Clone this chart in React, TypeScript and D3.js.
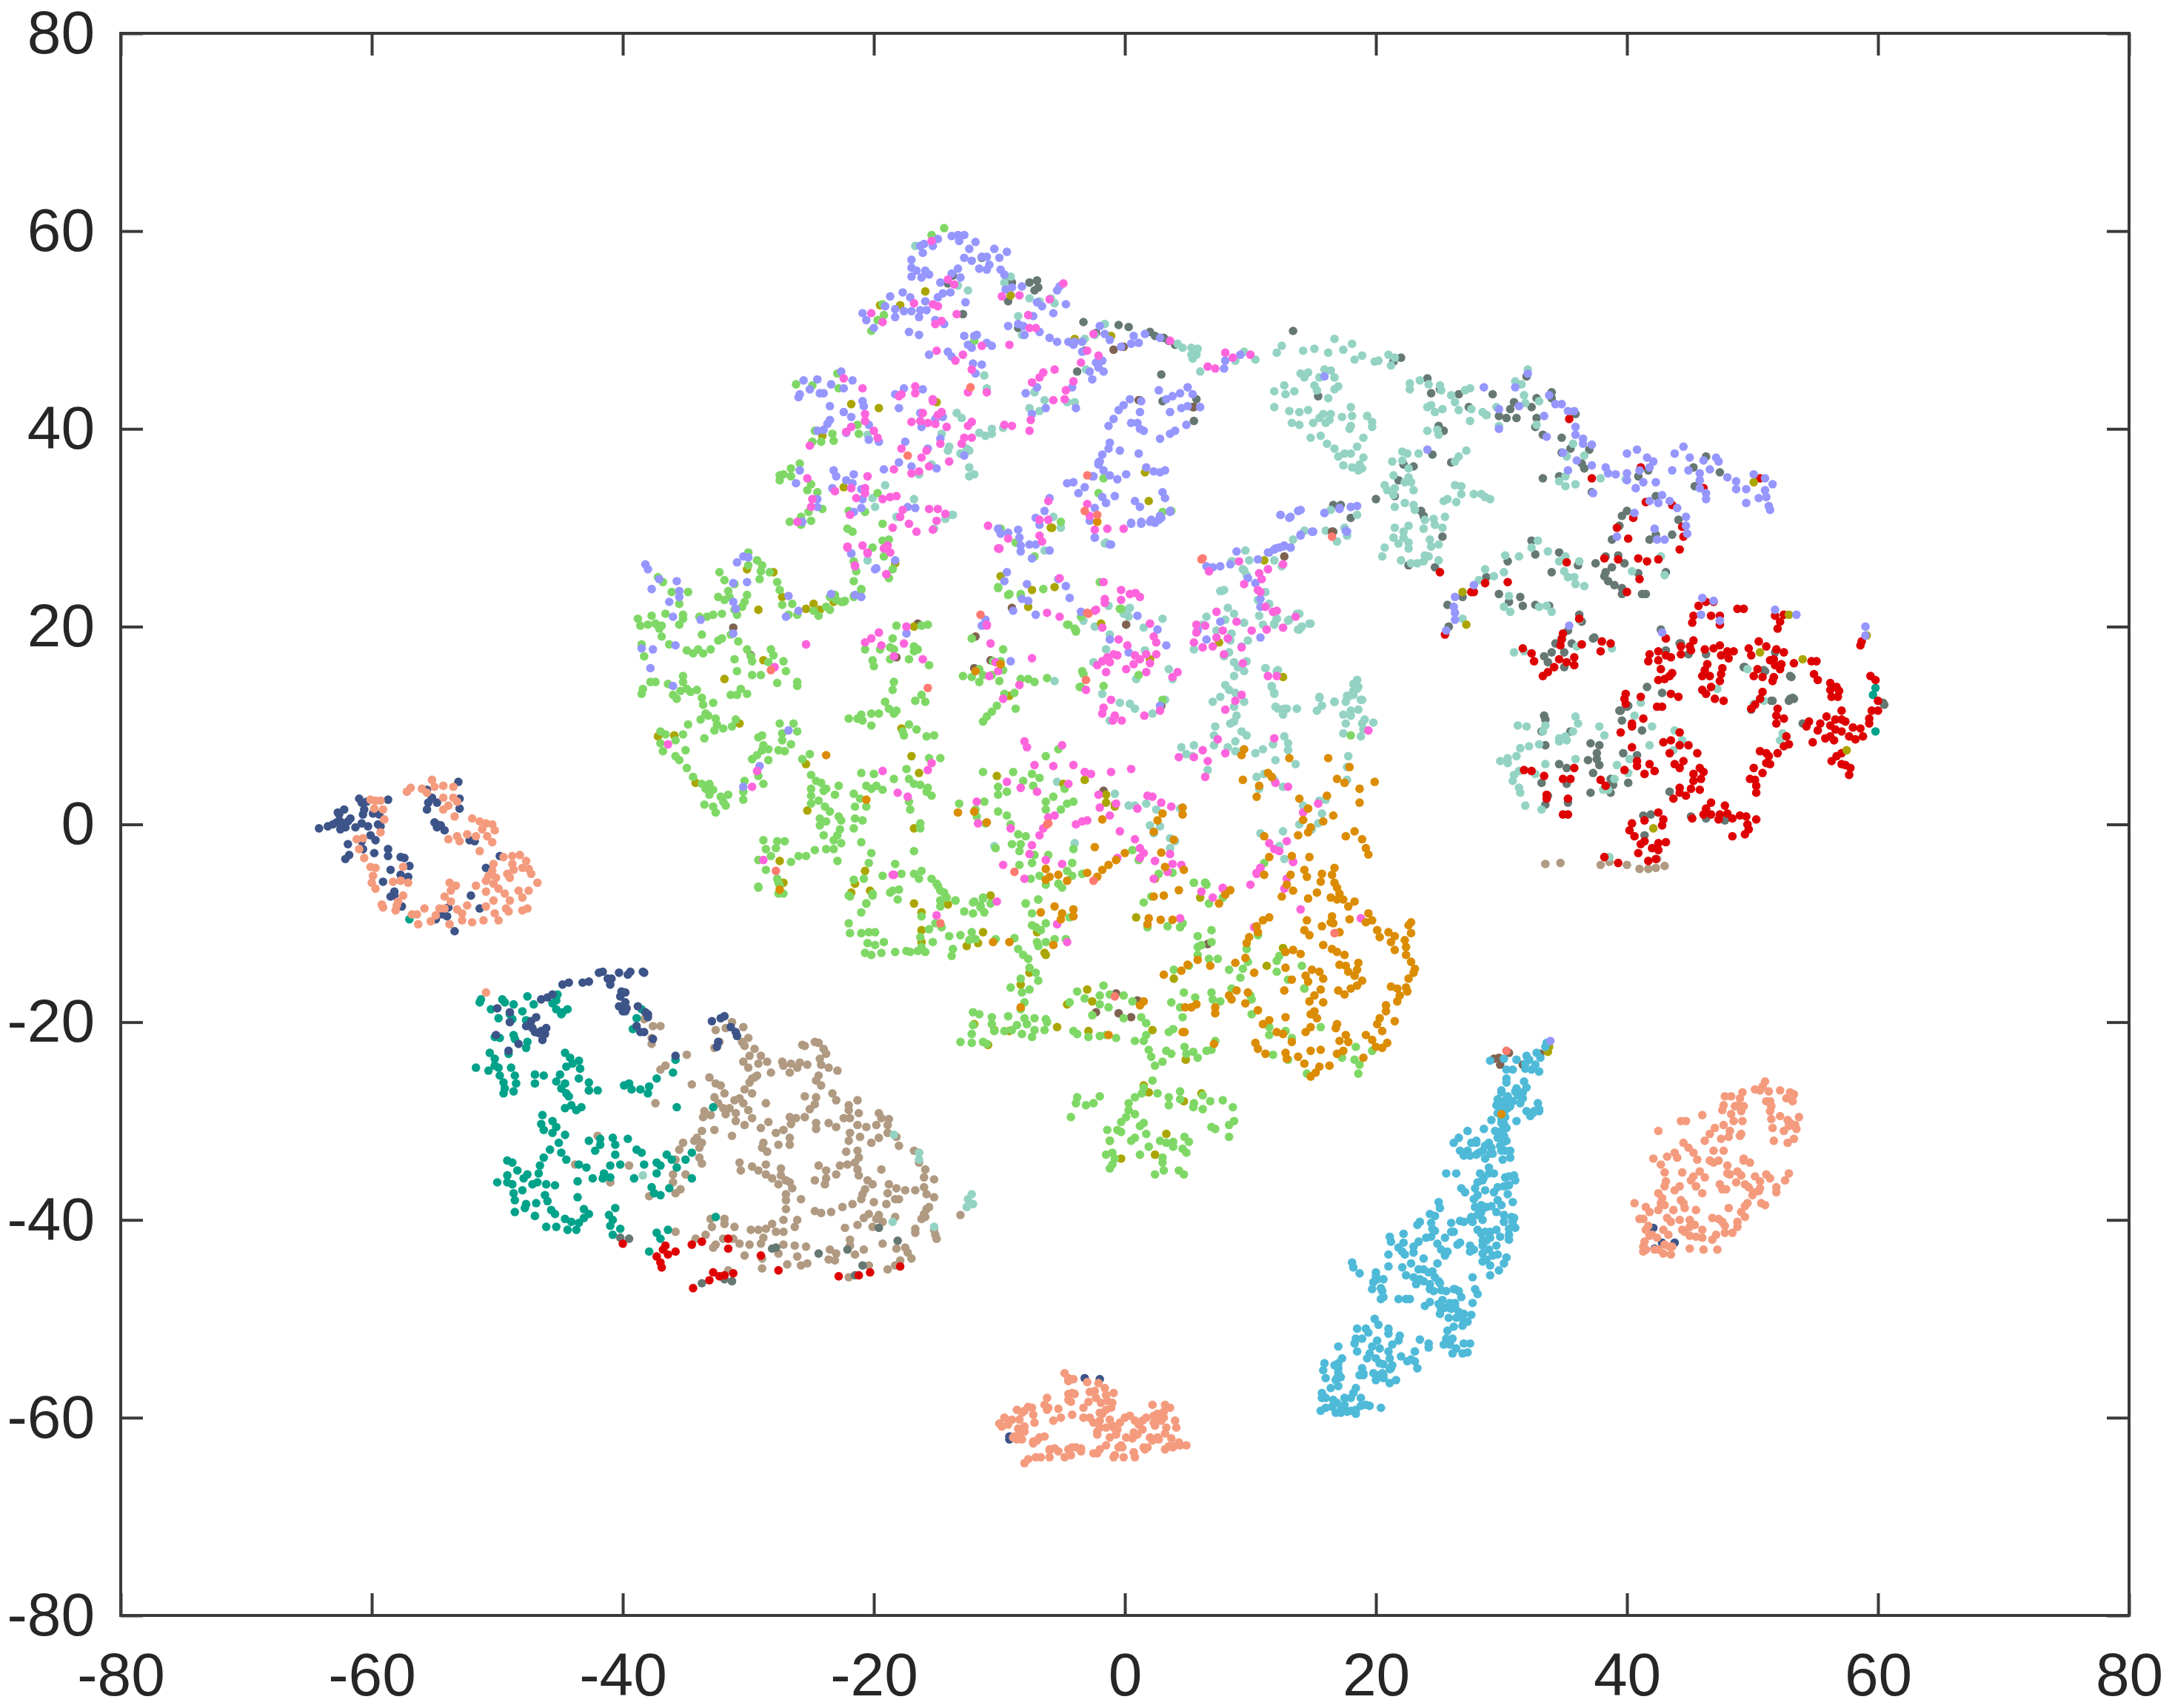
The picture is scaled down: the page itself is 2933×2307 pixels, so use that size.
import * as d3 from 'd3';
import React, { useEffect, useRef } from 'react';

const tickValues = [-80, -60, -40, -20, 0, 20, 40, 60, 80];

// point clouds in axis units
const tan = [
[-31.3,-20],[-32.6,-20.8],[-31.8,-20.6],[-30.4,-20.5],[-30,-21.6],[-30.5,-22],[-30.3,-22.4],[-32.3,-22],[-32.7,-22.6],[-29.5,-22.7],[-29.9,-23.4],[-29,-23.4],[-30.4,-24],[-28.5,-24],[-29.2,-24.2],[-30,-24.6],[-28.2,-25.1],[-29.3,-25.4],[-29.7,-25.7],[-29.9,-26.1],
[-25.7,-22.3],[-24.7,-22],[-24.4,-22.1],[-24,-22.7],[-23.8,-23.2],[-24.3,-23.7],[-24.2,-24.3],[-23.6,-24.6],[-22.9,-24.9],[-25.5,-22.4],[-27.3,-24],[-27.2,-24.4],[-26.7,-25.1],[-26.6,-24.2],[-25.9,-24.1],[-25.3,-24.3],[-26.1,-24.6],
[-24.4,-25.4],[-24.6,-25.9],[-24.2,-26.4],[-23.3,-27.2],[-23,-27.9],[-21.3,-27.9],[-22,-28.4],[-22,-28.9],[-21.2,-29.2],[-22.4,-29.7],[-21.9,-29.7],[-19.6,-29.2],[-19.4,-29.7],[-18.8,-29.8],[-18.9,-30.4],[-19.8,-30.4],[-20.6,-30.6],[-21.3,-30.4],[-21.9,-31.2],[-22,-32],[-21.1,-31.6],[-20.2,-32.2],[-19.6,-31.7],[-18.9,-31.2],[-18.2,-31.6],[-18,-32.5],[-21.3,-33],[-22.2,-33.1],
[-25.5,-27.5],[-24.6,-27.6],[-24.7,-28.3],[-25.1,-28.8],[-25.5,-29.6],[-26.2,-29.7],[-26.7,-29.6],[-26.6,-30.3],[-27.2,-30.9],[-27.8,-31.2],[-26.7,-31.7],[-24.6,-30.2],[-24.6,-30.8],[-23.6,-30.2],[-23,-30.6],[-26.7,-32.4],[-27.6,-32.4],[-28.4,-30.1],[-29,-30.7],[-28.8,-32.2],[-28.9,-32.7],[-28.5,-33.1],
[-29.5,-25.6],[-30.3,-26.8],[-29.7,-27.2],[-30.7,-27.7],[-31.1,-27.9],[-30.4,-28.2],[-28.6,-28.2],[-30,-28.9],[-31,-29.2],[-29.7,-29.7],[-31,-30],[-30.3,-30.4],[-33.1,-25.6],[-32.6,-26.2],[-32.2,-26.4],[-31.9,-27.2],[-34.5,-26.3],[-32.7,-27.6],[-32.4,-28.2],[-32,-28.7],[-31.5,-28.7],[-31.8,-29.3],[-33.5,-29],[-33.6,-29.6],[-33,-29.4],[-34.9,-23.3],[-36.6,-24.4],[-37,-24.8],[-37.4,-28.2],[-37.6,-20.4],[-37,-20.4],[-37.7,-21.6],[-37.7,-22.2],[-38.3,-19.7],
[-32.7,-30.9],[-31.3,-31.5],[-33.7,-31],[-34.1,-31.7],[-33.7,-32.2],[-34.3,-32],[-35.2,-32.2],[-35.5,-32.9],[-33.9,-32.7],[-33.9,-33.7],[-33.7,-34.3],[-35,-35.4],[-35.8,-33.9],[-36,-35.4],[-36,-36.2],[-35.4,-36.9],[-35.8,-37.3],[-37.9,-37.6],[-41,-36.2],[-39.5,-34.5],[-43.8,-34.4],[-42,-31.5],[-42.7,-26.9],
[-30.7,-34.2],[-30.6,-35],[-29.7,-34.6],[-29.2,-35],[-28.6,-34.4],[-28.6,-35.4],[-28.1,-35.8],[-27.4,-34.8],[-27.4,-35.5],[-27,-36],[-27.6,-36.4],[-26.7,-36.2],[-26.5,-36.8],[-27,-37.4],[-27,-38],[-25.8,-37.9],[-27,-38.9],
[-24.4,-34.5],[-23.8,-35],[-24.7,-36],[-23.8,-35.8],[-23.9,-36.4],[-23,-35.4],[-22.7,-34.5],[-22.1,-34.4],[-21.5,-34.2],[-21.2,-33.7],[-21.3,-34.9],[-21.2,-35.5],[-20.5,-36],[-20.1,-36.4],[-20.7,-36.9],[-20.9,-37.4],[-21,-37.9],[-20,-38.2],[-19.4,-34.9],[-18.8,-36.4],[-18.9,-37.3],[-18.2,-36.8],[-17.5,-37],[-18,-37.9],[-18.3,-37.9],[-19,-38.4],[-16.7,-37],[-16,-36.7],[-15.8,-37.4],[-15.2,-37.7],[-16,-35.7],[-15.9,-34.9],[-15.2,-35.9],[-16.4,-34.2],[-16.4,-33.2],[-16.8,-33],
[-15.8,-38.9],[-15.9,-39.7],[-16.2,-39.9],[-18.3,-39.7],[-19.6,-39.5],[-20.4,-39.4],[-20.8,-39.8],[-19.8,-39.9],[-21.3,-40.5],[-22.3,-40.8],[-19.3,-40.2],[-21.7,-38.4],[-22.5,-38.7],[-23.4,-39.2],[-24.2,-39.3],[-24.7,-39.1],[-16.7,-40.9],[-16.7,-41.3],[-15.1,-41.5],[-15,-41.9],[-13.1,-39.5],
[-33,-39.9],[-32.6,-39.7],[-32.9,-40.7],[-33.4,-41.5],[-31.9,-39.9],[-31.9,-40.4],[-31.1,-40.7],[-34.2,-41.9],[-35.8,-41.2],[-32,-41.9],[-32.6,-42.5],[-32.8,-42.8],[-31.2,-41.9],[-30.7,-42.4],[-29.8,-41],[-29.2,-41],[-28.6,-40.9],[-28.1,-40.4],[-27.8,-41.2],[-27.2,-40],[-27.2,-41.2],[-26.1,-40],[-26.3,-40.7],[-28.8,-41.8],[-29,-42.4],[-29.9,-42.5],[-30.3,-43.6],[-28.9,-43.9],[-28.9,-44.9],[-27.2,-42.5],[-27.6,-43.4],[-26.3,-42.6],[-26.9,-44.5],[-26.1,-43.7],[-25.4,-42.7],[-25.3,-44.4],[-25.8,-44.6],
[-23.5,-43],[-23.6,-44],[-23,-43.4],[-23.1,-44.1],[-21.9,-42],[-21.9,-42.6],[-21.5,-43.5],[-20.8,-43],[-22,-45.8],[-20.4,-44.6],[-18.9,-45],[-18.3,-44.6],[-19.3,-42.4],[-18.2,-42.9],[-17.5,-42.8],[-17.3,-43.3],[-17,-43.9],[-17.9,-44.1],[-16,-39.4],[-15.6,-38.7],[-15.2,-41],[-31.6,-45.1],[-20.1,-40.7],
[33.5,-4],[34.7,-3.9],[37.9,-4.1],[38.6,-3.8],[40,-4.1],[41,-4.5],[41.7,-4.5],[42.3,-4.4],[43,-4.2],[42.4,-3.5]
];

const teal = [
[-51.4,-18],[-51.3,-17.7],[-49.6,-17.7],[-49.4,-18],[-48.7,-18.2],[-50.5,-18.7],[-47.6,-17.4],[-47.1,-18.2],[-48,-18.9],[-49.9,-19.6],[-49,-19.2],[-48.8,-19.7],[-47.7,-19.8],[-45.2,-17.2],[-45.3,-17.8],[-45.6,-18.1],[-45.3,-18.7],[-44.9,-19.2],[-44.4,-18.7],[-44.8,-19],[-48.7,-21.3],[-48.6,-21.7],[-49.8,-21.6],[-50.2,-21.5],[-47.6,-22],[-47.7,-22.6],[-49.1,-23.2],
[-50.6,-23.1],[-50.2,-23.7],[-50.2,-24.4],[-51.7,-24.6],[-50.7,-24.9],[-49.9,-24.6],[-48.9,-24.6],[-49.8,-25.4],[-49.5,-26.1],[-48.6,-25.4],[-48.5,-26.2],[-49.4,-26.7],[-49.5,-27.2],[-48.7,-27],
[-47,-25.3],[-47,-26.2],[-46.3,-25.4],[-45,-25.3],[-45.3,-26],[-44.6,-26.2],[-44.9,-26.7],[-44.5,-27.2],[-44.3,-27.5],[-44.6,-23.1],[-44.2,-23.6],[-44.5,-24.5],[-44,-24.2],[-43.5,-23.9],[-43.4,-24.7],[-43.5,-25.7],[-42.7,-26.1],[-42.7,-26.9],[-42,-26.9],
[-44.6,-28.7],[-44.1,-28.4],[-43.7,-28.9],[-43.3,-28.6],[-37.3,-25.7],[-37.9,-26.5],[-38.6,-26.8],[-38,-27.2],[-39.9,-26.4],[-39.5,-26.2],[-39.3,-26.8],[-36,-25.1],[-35.8,-23.8],[-35.7,-28.6],[-32.8,-28.6],[-38.9,-19.6],[-39.2,-20.7],[-38.5,-18.7],
[-46.4,-29.4],[-46.5,-30.3],[-46.3,-30.9],[-45.6,-30],[-45.3,-30.6],[-45.6,-31.2],[-44.6,-31.4],[-45.1,-32.2],[-45.8,-32.9],[-44.9,-33.2],[-44.5,-33.9],[-46.3,-33.7],[-46.6,-34.5],[-46.7,-35.3],[-46.8,-36.2],[-46.1,-36.4],[-45.4,-36.5],[-47.2,-36.4],[-47.9,-35.8],[-47.6,-35.4],[-48.4,-35],[-49.2,-34],[-48.8,-34.2],[-49.2,-35.5],[-50,-36.2],[-49.2,-36.2],[-48.8,-36.4],[-48,-37],[-48.7,-37.3],[-48.6,-38],[-46.2,-37.5],[-46,-38.1],[-46.9,-38.3],[-47.7,-38.4],[-47.8,-38.8],[-48.6,-39.2],[-47,-39.6],[-45.7,-39],[-45.4,-39.4],[-46.1,-40.7],[-45.3,-40.7],[-44.6,-39.9],[-44.1,-40.2],[-44.4,-41],[-43.7,-41],[-43.5,-40.3],[-43.1,-39.8],[-42.7,-39.4],[-43.1,-38.9],[-43.6,-37.7],[-43.6,-36.1],
[-43.5,-34.4],[-42.9,-34.7],[-42.7,-32],[-41.8,-31.8],[-41.8,-32.4],[-42.2,-33],[-40.8,-31.7],[-40.6,-32.4],[-40.6,-33.4],[-39.6,-31.8],[-38.9,-32.9],[-38.5,-33.2],[-38.3,-34.4],[-37.3,-34.2],[-37,-34.5],[-37.3,-35.3],[-36.5,-33.4],[-36.1,-33.9],[-35,-33.9],[-34.5,-33.2],[-35.7,-34.7],[-34.5,-35.8],[-40.2,-34.4],[-41,-34.5],[-41.5,-35.3],[-41,-35.7],[-41.6,-35.8],[-42.4,-35.8],[-39.1,-35.8],
[-37.7,-36.7],[-37.5,-37.3],[-37,-37.5],[-36.3,-36.8],[-40.6,-38.8],[-41.1,-39.5],[-40.8,-40],[-41,-40.6],[-40.2,-40.9],[-40.8,-41.5],[-37.3,-41.3],[-36.4,-41],[-37,-41.9],[-32.6,-39.7],[-37.9,-43.2],[59.6,13.1],[59.8,9.4],[59.8,13.8],[-57,-9.6]
];

const navy = [
[-64.2,-0.4],[-63.5,-0.2],[-63.1,0],[-62.8,0.2],[-62.5,0.3],[-62.1,-0.3],[-62.5,-0.5],[-61.3,-0.3],[-60.8,0.1],[-61.9,0.3],[-61.7,0.6],[-60.7,1],[-62.6,1],[-62.2,1.5],[-62.7,1.2],[-61,2.6],[-60.8,2.2],[-60.4,2.3],[-60.6,1.5],[-59.4,1],[-58.7,2.5],[-59.9,1.1],[-59.5,0],[-59.3,-0.2],
[-60.3,-0.2],[-60.1,-1.1],[-59.7,-1.6],[-60.8,-1.7],[-61.9,-2],[-60.7,-2.5],[-61.8,-3.1],[-62.1,-3.5],[-59.8,-2.9],[-58.7,-2.5],[-58.7,-3.2],[-57.7,-3.3],[-57.4,-3.4],[-57,-4.2],[-58.5,-4.6],[-57.7,-5.1],[-57.1,-5.3],[-59.1,-5.8],[-58.2,-6.8],[-58.2,-7.2],[-58.5,-7.3],
[-57.6,-8.3],[-54.9,-9.6],[-54.4,-9.1],[-53.9,-8.4],[-54,-9.3],[-53.4,-10.8],[-51.4,-8.5],[-52.1,-7.2],[-52.2,-1.6],[-51.8,-1.7],[-49.8,-3.2],[-50.9,-4.4],
[-55.6,3.5],[-55.2,2.7],[-55.5,2.2],[-55.6,1.5],[-54.8,2.2],[-53.1,4.3],[-53,2.6],[-53,1.6],[-55,0.2],[-54.8,0],[-54.5,-0.1],[-54.8,-0.3],[-54.2,-0.6],
[-50,-18.6],[-49,-19],[-49,-20],[-47.7,-20.4],[-47.3,-19.9],[-46.9,-19.5],[-47.2,-20.6],[-47,-21],[-46.7,-21.1],[-46.4,-21.8],[-46.2,-21.2],[-46.1,-20.6],[-46.5,-20.9],[-50.1,-21.3],[-48.3,-22.2],[-49.1,-22.9],
[-46.5,-17.7],[-46,-17.5],[-45.6,-17.2],[-44.8,-16.2],[-44.3,-16],[-43.2,-16],[-42.7,-15.9],[-41.2,-15.6],[-41.9,-15],[-41.6,-14.9],[-40.3,-15],[-39.6,-15.2],[-39.4,-14.9],[-38.4,-14.9],[-38.3,-15],[-40.9,-15.6],[-41,-16.2],[-40.1,-16.9],[-39.8,-17],[-40.2,-17.4],[-39.8,-18],[-40.3,-18.4],[-39.7,-18.6],[-40,-18.9],[-38.8,-18.4],[-38.2,-19],[-38,-19.2],[-38,-19.5],[-39.8,-18.9],[-38.9,-20.4],[-38.6,-21],[-38.3,-21],[-37.6,-21.7],
[-32.9,-19.9],[-32.2,-19.6],[-31.9,-19.4],[-31.4,-20.5],[-31,-21],[-30.9,-21.4],[-32.4,-22],[-32.5,-22.5],[-35.8,-23.4],
[42.1,-40.8],[42.2,-42.9],[42.8,-42.3],[43.8,-42.3],[-3.2,-56],[-2,-56.1],[-9.2,-62.2],[-9.2,-61.9]
];

const salmon = [
[-55.2,4.5],[-56.9,3.7],[-57.2,3.3],[-56,3.6],[-55.6,3.2],[-55,3.8],[-54.3,3.9],[-53.5,3.8],[-54.3,2.7],[-53.5,2.7],[-53.2,2.3],[-53.9,1.9],[-54.3,1.5],[-53.4,0.8],[-52,0.6],[-51.4,0.3],[-50.9,0.1],[-50.4,0],[-51.2,-0.5],[-50.2,-0.6],[-52.4,-1],[-51.7,-1.2],[-50.8,-1.2],[-50.4,-1.8],[-53.2,-1.2],[-53,-1.7],[-53.9,-1.5],[-51.4,-2.7],
[-49.5,-3.3],[-48.8,-3.2],[-48.2,-3.1],[-48.8,-4],[-47.7,-3.7],[-50.3,-4],[-48.7,-4.6],[-48,-4.4],[-47.5,-4.5],[-47.3,-5],[-50.4,-4.7],[-49.2,-5],[-49,-5.4],[-50.7,-5.2],[-50.1,-5.4],[-50.9,-5.7],[-50.3,-6],[-49.9,-6.5],[-46.8,-5.9],[-48.3,-6.7],[-47.5,-6.7],[-48,-7.4],[-50.9,-6.8],[-51.7,-6.2],[-53.8,-5.9],[-53.3,-6.2],[-53.7,-6.7],[-54.2,-7.3],[-53.7,-7.8],
[-49.4,-7],[-49,-7.7],[-50.3,-7.7],[-50.9,-8.3],[-49.3,-8.5],[-49.1,-8.8],[-50.2,-9],[-48,-8.7],[-47.6,-8.5],[-49.9,-9.7],[-51.1,-9.7],[-52,-9.9],[-52.8,-9.7],[-52.4,-8.2],[-53.2,-8.6],[-52.8,-9],[-54.2,-8.5],[-54.6,-8.5],[-54.9,-9.2],[-55.3,-9.8],[-55.8,-8.5],[-56.8,-9.1],[-56.4,-9.1],[-56.3,-10.1],[-53.8,-10.1],
[-60.1,2.5],[-59.7,2.4],[-59.3,2.4],[-59.8,1.6],[-59.1,1.5],[-59,0.5],[-59.3,-0.8],[-61.2,-1.5],[-60.7,-1.4],[-61,-2.5],[-60.6,-3.4],[-60.1,-4.3],[-59.7,-4.4],[-59.9,-5.2],[-60,-5.9],[-59.7,-6.5],[-58.3,-5.8],[-57.7,-5.7],[-57.1,-5.9],[-57.5,-4.3],[-57.5,-7.2],[-57.9,-7.8],[-58.1,-8.7],[-59.2,-8.1],[-59.1,-8.4],[-58,-8.2],
[-50.9,-17],
[51,-26],[50.8,-26.5],[50.2,-26.8],[51.3,-27],[51.1,-28],[50.6,-26.9],[49.2,-27.1],[49,-27.7],[48.9,-28.4],[48.6,-28.5],[48.3,-27.5],[47.8,-27.5],[47.7,-28.4],[48.3,-29.3],[49.1,-29],[49.2,-30],[48.5,-30],[48.2,-31],[47.7,-30.4],[47.6,-28.9],[49.3,-28.5],[49.1,-31.3],[47,-30.7],[48.1,-31.6],[47.5,-31.8],[46.6,-31.3],[46.2,-32],[46.9,-33],[47.7,-33],[49,-31.5],
[52.2,-26.9],[53,-27.1],[53.3,-27.3],[53.2,-28],[52.7,-27.7],[51.4,-29],[51.4,-28],[51.5,-28.5],[51.5,-29.8],[52.2,-29.5],[52.8,-29.9],[53,-30.2],[53.7,-29.6],[53.5,-30.8],[52.5,-31],[53.3,-31.8],[52.8,-32.2],[53.4,-30.4],[52.9,-30.5],[51.6,-30.7],[51.7,-32],
[42.7,-34.4],[42.1,-33.8],[43.2,-33.6],[43.8,-33.2],[44,-33.7],[44.9,-32.7],[44.3,-30],[44.7,-30],[46,-29.4],[42.5,-31],[44.5,-32.2],[45.3,-33.2],[45.6,-33.9],[46.6,-34],[46.9,-34.2],[47.3,-34],[48,-34.5],[45.8,-35.1],[46.2,-35.7],[45.5,-36.6],[46,-37.3],[47.4,-36.4],[48.2,-35.4],[48.7,-36.2],[49.4,-36.4],[49.3,-33.8],[49.3,-34],[49.8,-34.2],[49.1,-35.5],[48.8,-35.1],[50.2,-35.6],[49.7,-36.7],[50,-37.5],
[51.1,-35.4],[51.4,-35.8],[50.6,-36.1],[50.5,-37.1],[50.1,-37.2],[51.9,-36.7],[52.6,-36],[52.9,-35.3],[51.9,-37.2],[51,-38.5],[50.7,-38.3],[45.1,-36],[45.3,-35.6],[44.4,-35.2],[44.2,-36.6],[43.8,-37],
[42.5,-37.3],[43,-36.6],[43.1,-36.1],[43,-38.5],[42.8,-37.8],[43,-35.2],[45.5,-36.6],[44.3,-38],[43.7,-39],[43.2,-39.8],[45.5,-39],[45,-40],[47.3,-39.9],[47.6,-40.2],[47.8,-40.6],[46.8,-39.8],[47.6,-36.9],[47.9,-36.9],[48,-35.3],[48.1,-38.8],[49.1,-39.2],[49.4,-39.7],[48.8,-40.7],
[48.4,-41.3],[48.8,-40.2],[49.4,-38.6],[49.6,-38.3],[50.6,-36.8],[47.8,-41.3],[47.2,-43],[47.1,-41.5],[46.8,-42],[46,-41.8],[46.1,-43],[45,-42.9],[45.5,-41.7],[46,-41],[45,-41.6],[43.6,-42.7],
[44.5,-38.3],[44.6,-38.8],[44.2,-40],[43.5,-40.2],[42.5,-39],[42.7,-38.3],[41.8,-39.2],[41.5,-38.7],[41,-39.9],[40.6,-38.3],[41.3,-39.9],[41.5,-41],[41.8,-41.6],[41.7,-40.6],[42,-41.5],[41.5,-43],[42.2,-43],[42.5,-43],[43,-42.5],[43.5,-43.5],[42.9,-43.4],[44.4,-41],[44.6,-41.2],[43.3,-41.5],[45,-40.7],[45.4,-40.5],
[41.4,-42.2],[41.3,-42.7],[41.3,-43.2],[43.4,-42.7],[41.5,-43],[42.4,-41.8],[42.9,-41],
[-4.8,-55.5],[-4.5,-56],[-4.1,-56.1],[-4.5,-56.3],[-4.5,-57.6],[-4.2,-57.5],[-4,-57.6],[-4.5,-58.2],[-4.3,-58.4],[-6.2,-58],[-6.4,-58.7],[-6.1,-59],[-7.4,-59],[-7.7,-58.9],[-6.2,-59.2],[-8.6,-59.2],[-8.2,-59.5],[-8,-59.3],[-9.6,-60],[-9.2,-60.3],[-9,-60.2],[-10,-60.6],[-9.3,-60.7],[-9.8,-60.9],[-8.4,-60.2],[-8.5,-61.1],[-8,-60.9],[-7.3,-59.7],[-7.2,-60.5],
[-5.7,-60.3],[-5.3,-59.1],[-5.1,-60],[-4.2,-59.7],[-3.3,-59],[-3.3,-60],[-2.8,-60],[-2,-59.5],[-2,-60.3],[-1.8,-59.6],[-2.9,-58.4],[-2.3,-58],[-1.9,-58.5],[-1.5,-59.2],[-1.2,-60.2],[-1.1,-59],[-1.5,-57.7],[-1.6,-57],[-2.1,-56.5],[-2.8,-57.4],[-1.4,-58.3],[-0.9,-57.5],[-1,-58.5],
[-2.5,-60.5],[-2,-61],[-2.2,-61.4],[-2.2,-61.7],[-1.5,-61],[-1,-60.8],[-0.6,-61.2],[-0.4,-60.5],[-1.2,-62],[-0.7,-61.7],[0,-60],[-0.9,-61],[0.4,-59.8],[0.8,-60.3],[1.1,-60.7],[1.4,-60.3],[1.7,-60],[2.3,-60.5],[2.4,-60.8],[1.4,-61.2],[0.7,-61.5],[2.9,-60.3],[3.1,-60],[3.3,-61],[3.2,-61.6],[3.1,-59.4],[2.6,-59.6],[2.3,-59.8],[2.2,-58.7],[2.7,-59.8],
[3.2,-58.7],[3.6,-59],[4,-60.3],[4.1,-61],[2.7,-62.2],[2.6,-62],[2.2,-62.3],[2,-62],[1.8,-63],[1.5,-63],[0.6,-62.1],[1,-61.7],[1.6,-63.2],[0.1,-62],[-0.3,-62.8],[-0.5,-63],[-0.2,-63],[-0.8,-63.8],[-0.9,-64],[0.7,-63.5],[-1.5,-62.8],[-2,-63.2],[-2.2,-63.6],[-2.5,-63.6],[-0.1,-64],[0.8,-64],[-3.5,-63.4],
[-3.5,-63.1],[-3.9,-63],[-4.2,-63],[-4.5,-63.2],[-4.3,-63.8],[-4.8,-64],[-5.3,-63.4],[-5.6,-63.1],[-6,-63.2],[-6,-63.3],[-6.8,-62],[-7,-62.3],[-7.3,-62.4],[-7.3,-62.6],[-8.2,-62.2],[-8.8,-61.9],[-8.6,-62.2],[-6.4,-61.9],[-8,-61.4],[-8.5,-61.8],[-8.9,-62],
[-7.7,-64.2],[-8,-64.6],[-7.1,-64],[-6.7,-64],[-6,-64],
[3.2,-63.2],[3.5,-62.9],[3.9,-62.9],[4.4,-62.8],[4.9,-62.8],[3.8,-63],[3.7,-62.1],[4.3,-62.5],[-3,-56.4],[-2.4,-57.3]
];

const grey = [
[13.4,49.9],[22,47.2],[21.4,46.8],[15.4,43.3],[24.1,45.1],[24.4,43.6],[25.1,44],[26.6,43.5],[27.4,42.2],[28.8,41.4],[29.3,43.5],[29.8,41.3],[30.4,41.1],[31.2,41.1],[30.7,42],[31,42.7],[32.4,42.2],[32.8,43.1],[34,43.7],[34,43.1],[32.8,41.1],[32.7,40.2],[33.3,39.4],[34.8,39.1],[35.9,41.5],[35.5,38],[37,37.9],[34.8,37.6],[36.4,36.5],[36.6,36],[32,45.3],[33.3,35],[34.6,35.2],[37.2,33.6],[40.9,35.2],[41.7,35.8],[45.3,36.1],[46.3,37.2],[47.4,35.6],[45.4,34.2],[25,40.3],[25.4,39.8],[26,36.6],[24.5,37.4],[23,36.2],[22.2,36.4],[21.8,34.8],[21.5,33.2],[20,32.9],[23.6,31.7],[23.8,31.2],[25.3,29.1],[16.6,32.3],[17.2,32.3],[18,31],[16.6,29.6],[22.6,26.2],[24.7,26],
[42.3,33.2],[40,31.7],[39.6,31.2],[39.4,30.2],[38.8,28.8],[41.8,28.8],[42.3,29.3],[43.6,29.3],[44.1,30.8],
[30.5,26.6],[32.4,28.7],[32.7,27.3],[34.6,27.5],[36.1,26.2],[37.5,26.4],[34,25.5],[38.3,27.1],[39.3,27.2],[39.8,26.4],[38.8,26],[38.3,25.5],[38.2,25.1],[38.5,24.6],[39,24.2],[39.6,23.9],[39.6,23.3],[41.2,23.3],[41.5,23.3],[40.9,25.4],[43.1,25.5],[36.2,21.2],[36.4,20.5],[28.8,25],[29.8,23.3],[31.5,23],[30.6,22.5],[31.7,22.1],[32.7,22.2],[33.8,22.1],[25.7,22.2],[25.8,20],[26.9,23],
[37.4,18.9],[35.3,19.6],[34.8,18.8],[34.3,18.3],[35.6,18.3],[35,17.4],[34,17.4],[33.4,17],[33.7,16.4],[35,15.9],[42.7,19.7],[44.2,18.3],[43.1,17.6],[44.9,17.2],[46.3,17.2],[51.8,17.4],[49.4,15.9],[51,15.5],[53.1,14.9],[41.6,13.9],[42.8,13.3],[39.4,11.5],[33.4,11],[53.2,12.8],[52.9,12.5],[51.5,12.5],[40.1,12],[60.4,12.3],
[33.5,10.6],[33.2,9.4],[35.5,9.4],[33.5,8],[37.1,8.2],[37.8,8],[37.6,7.2],[37.6,6.6],[36.9,6.5],[37.8,6],[34.6,6.1],[35.2,5.7],[37.3,5.2],[33.2,4.2],[35.2,4.1],[37.1,3.2],[40.1,4.2],[38.7,4.6],[38.7,3.2],[38.9,4],[33.5,2],[33.7,2.9],[35.3,2.2],[39.5,11.5],[39.6,10.5],[40,11.9],[41.2,9.5],[39.7,7.2],[40.8,7],[43.4,3.3],[45.1,0.8],[46.3,0.6],[47.8,0.4],[41.3,0.9],[41.9,1],[41.4,-1.1],[49.9,11.6],[53,15],[53,12.7],[53.3,12.7],[51.6,12.5],[50.9,15.6],[54,10.2],[60.5,12.1],[49.3,15.9],[44.3,18.3],[37.3,18.8],
[-11.4,57.3],[-9.4,55.2],[-9,54.8],[-7.6,54.8],[-7,55],[-6.9,54.3],[-7.2,54],[-13.7,55.5],[-14.1,54.7],[-9.3,52.9],[-12.9,51.6],[-3.3,50.8],[-3.2,47.9],[-2.3,49.7],[-0.5,50.5],[0.3,50.3],[2,49.8],[2.4,49.4],[3.1,49.2],[3.5,48.9],[4,48.5],[-3.8,45.8],[1.2,42.9],[5.4,42.2],[5.7,43],[5.5,40.8],[2.9,45.5],[3,42.8],[-8.5,50.2],
[-40.2,-41.8],[-39.5,-41.9],[-33.7,-46.4],[-31.9,-46],[-31.3,-46.2],[-28.1,-42.9],[-27.8,-42.8],[-24.4,-43.4],[-22.1,-43],[-20.9,-44.6],[-21.5,-45.6],[-19.6,-40.8],[-18.1,-42.1]
];

const mint = [
[-16.7,58.5],[-9.1,55.4],[-9.6,54.8],[-7.6,53.2],[-6.8,52.9],[-5.6,52.7],[-5.9,53.2],[-12.5,54],[-13.3,54.5],[-8.5,51.4],[-8.2,49.5],[-1.6,50.6],[-3.2,49.1],[-2.4,49.5],[4.2,48.6],[4.6,48.2],[5.3,48.2],[5.8,48.1],[5.3,47.5],[5.7,47.5],[5.4,47.1],[6,45.8],[8.8,46.9],[9.5,47.8],[10.4,47],[-3.1,46],[-11.2,45.4],[-11,44.1],[-7.2,43.7],[-6.4,42.9],[-7.6,42.1],[-6.8,41.8],[-4,42.7],[-4.6,42.7],[-20.5,39.4],[-13.4,41.6],[-13,41.1],[-11.6,39.6],[-11.1,39.3],[-10.6,40],[-10.6,39.5],[-9.7,40.1],[-14.6,39.5],[-14,38.2],[-14.1,37.8],[-12.4,37.8],[-13.1,37.5],[-12.6,38],[-15.4,36.4],[-12.4,36.1],[-12.4,35.2],[-12,35.4],[-16.4,35.4],[-19.1,34.3],[-20.1,33],[-19.9,32.1],[-16.8,32.9],[-18.2,31.1],[-13.7,31.3],[-15.2,29.9],[-14.3,30.9],[-20.5,26.7],[-1.6,28.4],[0.4,21.9],[9.6,27.7],[8.6,26.6],[7.6,23.6],[9.5,25.7],[-5.1,30],[-6.4,27.7],
[12.5,48.4],[12.1,47.7],[14.2,47.9],[15.1,48.1],[16.2,47.7],[16.7,49.1],[17.4,48],[18.1,48.6],[18.3,47],[18.9,47.4],[19.9,46.8],[20.2,46.9],[21,47.5],[21.5,47.2],[21.2,46.4],
[14,45.6],[14.6,45.7],[14.3,45.2],[15.9,46],[16.4,45.9],[16.7,45.2],[15.5,45.2],[12.7,44.4],[13.5,43.8],[11.9,43.8],[12.8,43.5],[15.1,44.4],[15.3,43.9],[17,44.3],[16.7,44],[16.2,43.1],[11.9,42.2],[13.1,41.8],[13.9,41.7],[14.6,41.9],[13.3,40.6],[13.9,40.4],[15,40.6],[16,40.6],[16.3,40.9],[15.8,41.5],[16.4,41.5],[15.5,41.1],[17.3,41.2],[18.1,41.3],[18,42.2],[18,40.3],[17.9,40],[19.3,41.3],[19.7,40.7],[19.7,40.2],[19,39.1],[14.8,39.1],[15.6,39.3],[16.1,38.5],[16.7,38],[18.5,38.2],[17.5,37.5],[18,37.5],[17,37.2],[19,37.1],[18.7,36.4],[17.4,36.3],[18.1,36.1],[18.6,35.8],[18.9,36],
[22.7,44.6],[22.7,44],[23.5,44.9],[24.2,44.5],[25.1,44.4],[25.2,43.9],[27.1,43.9],[27.5,44.1],[26,43.4],[26.3,42.7],[24.1,42.2],[24.7,41.7],[25.3,42],[24.4,42.4],[26.6,41.9],[27.6,42],[28.5,41.7],[28.8,41.4],[27.5,40.8],[24.1,39.8],[25,39.4],[24.9,39.9],[29.8,40.3],[29.6,42.2],[31.1,44.8],[31.6,44.5],[32.1,46],[31.8,43.4],[31.9,42.6],[33,42.8],[32.8,40.4],[35.7,38.5],[36.6,37.3],[35.2,37.2],[35.1,35.2],[34.6,34.7],[35.1,34.2],[35.9,34.4],[37.9,35],[39.9,34.9],
[22.1,37.7],[22.5,37.5],[23.4,37.5],[22.1,36.8],[21.3,36.7],[26.6,37.2],[27.2,37.8],[26.3,36.7],[22.6,36],[21.4,35.3],[22.6,35.1],[22.8,34.6],[22.3,34.6],[23,33.8],[20.7,34.3],[20.9,33.8],[21.5,34],[21.4,33.3],[21.5,32.1],[22.3,32.5],[23,32.3],[23.1,31.8],[26.3,34.3],[26.8,34.2],[26.8,33.4],[27.8,33.4],[28.4,33.4],[28.7,33.1],[29.1,32.9],[25.4,32.7],[25.7,32.9],[26.4,32.6],[25.5,31.1],[24.6,30.9],[23.9,30.8],[24.7,30.3],[25.3,30],[23.8,29.9],[22.6,30.2],[21.5,30],[22.2,29.6],[21.4,29],[22.2,29],[21.8,28.4],[22.6,28.5],[22.6,27.9],[20.7,28],[20.5,27.1],[22,26.7],[23.9,27.2],[24.2,27.1],[24.4,28.1],[24.3,28.8],[25,28.3],[25,26.7],[22.8,26.4],[23.3,26.4],[23.8,26.6],[30.3,27.2],[31.4,27.1],[32.9,28.7],[32.4,28],[33.7,27.6],[35.1,27.1],[34.6,26.6],[36.2,26.6],[35,25.6],[35.3,25],[35.8,25],[35.9,24.3],[36.6,24.1],[40.4,25.6],[42.7,27.1],[43,25.2],[28.7,25.8],[29.4,25.1],[30.2,25.5],[28.2,24.7],[30.6,23.1],[30.2,22],[30.7,21.5],[33,22],[33.6,22.1],[34,21.5],
[26.9,20.8],[31,17.4],[31.8,17.5],[36.2,20.7],[36,18],[38.8,17.8],[11.2,15.8],[12.1,15.5],[11.7,13.9],[11.9,13.3],[12.9,11.7],[13.7,11.7],[15.5,12.8],[16.7,12.4],[18.5,14.6],[18.3,14.1],[18.5,13.7],[17.9,13],[18.8,12.6],[13.7,21.3],[13,20.6],[14.7,20.3],[13.8,19.7],[12.1,20.8],[11.9,20.3],
[33.5,10],[32,9.9],[31.3,10],[35.9,10.9],[33.3,9.4],[36.1,10.2],[35.7,9.4],[34.6,8.7],[35.1,8.9],[35.2,8.5],[34.6,8.4],[33,8.1],[32.2,7.9],[31.5,7.7],[31.2,6.9],[30.5,6.7],[29.9,6.4],[30.5,6.2],[31.4,5.4],[31,5],[30.9,4.4],[31.4,3.7],[31.5,3.2],[32.7,5.1],[33.5,6.1],[35.9,6.6],[37.8,9.9],[38.2,9],[40.6,11],[42,9.9],[41.8,8],[40.2,6.6],[39.2,6],[40.1,5.2],[43.8,9.5],[52.4,9.2],[52.2,8.5],[50.1,12.2],[50.9,12.5],[49.6,15.7],[47.2,13.7],[39,4.6],[38.1,3.5],[38.5,3.5],[31.9,1.9],[33.2,1.5],[38.6,-3.3],[41.1,12.3],[44.4,8.5],[43.7,7.5],
[-13.8,31.3],[-5.7,31.1],[-1.5,28.5],[13.4,28.8],[14.3,29.7],[16,29.7],[16.4,31.8],[17.5,30],[17.7,29.2],[16.9,28.6],[18.5,31.3],[9.9,26.7],[8.5,26.6],[11.9,26.7],[12.5,26.1],[9.4,25.8],[9.7,25.2],[7.7,23.6],[7.9,23.7],[11.2,23.5],[10.6,22.7],[11.5,22.3],[8.2,21.9],[8.7,21.3],[6.5,21],[6.2,20.2],[8,20.7],[9.5,20.4],[10.7,21.1],[11,20.2],[12.1,20.8],[11.9,20.2],[13.1,20.7],[13.9,21.3],[14.8,20.3],[13.9,19.7],[14.1,20],[7.3,19.6],[8.5,19.3],[8.4,18.6],[9.8,18.6],[9.3,18],[5.5,17.7],[8.3,17.4],[7.9,17],
[8.7,16.4],[9,15.9],[9.7,16.5],[9.5,15.5],[8.7,15],[11.2,15.8],[12.2,15.6],[8,14.1],[8.3,13.6],[8.8,13.3],[7,12.4],[7.6,12.9],[9.5,12.4],[8.7,11.9],[8.9,11],[8.7,10.4],[8.4,10.2],[11.7,14],[11.9,13.2],[12.7,11.7],[12.2,11.7],[12.6,11.1],[12,11.9],[13.7,11.7],
[15.5,12.9],[15.7,12],[15.3,11.5],[16.7,12.4],[18.5,14.6],[18.2,14.2],[18.6,13.9],[18.2,13.5],[17.7,13],[18.2,13.1],[17.6,12.4],[18.9,12.6],[18.6,11.6],[18,11.5],[17.4,11.1],[18,11],[17.6,10.2],[19.1,10.6],[19.8,10.3],[18.9,10.2],[19,9.6],[17.4,9.2],[18.8,8.9],[17.8,6.9],[17.7,5.8],[17.7,4.5],[13.6,6.1],
[7.2,9.9],[7.1,9],[9.3,9.4],[9.7,9],[8.8,8.4],[7.1,8],[8.2,7.8],[8.8,7.4],[9.4,7.5],[10.4,7.2],[11,7.6],[11.8,8.1],[12.7,8.9],[13,8.2],[12,6.5],[13,7.5],
[4.5,7.8],[4.9,7.1],[5.5,8],[5.4,6.9],[6.6,5.5],[10.5,4.8],[11.1,5.1],[11.9,4.5],[12.6,3.8],[10.7,3.6],[14.2,1.9],[15.5,2.4],[16,2.5],[15.7,1.1],[15.4,0.1],[13.9,0],[14.9,-0.5],[10.8,-0.9],[12.3,-2.2],[12.6,-0.7],[12.7,-3.5],[3.6,-1.4],[3.6,-2.4],[4,-1.7],
[2.5,1.5],[0.8,1.9],[0.3,1.9],[1.7,2.1],[4.4,1.6],[2,-0.1],[2.8,-0.2],[2.3,-0.9],[-4,-1.9],[-10.4,-2.2],
[-0.1,21.3],[0.3,21],[3,20.8],[1.5,19.9],[0.3,21.8],[-1.3,22.1],[-2.4,20],[-3.3,20.6],[-1.2,19.2],[-1.5,17.7],[1.6,17.6],[-2.5,16.4],[3.5,15.7],[3.8,14.7],[0.9,14.7],[-1.8,13.2],[-0.4,12.3],[0.4,12.2],[0.8,11.7],[2.2,11.2],[-1.2,10.5],[3.2,12.6],[-5.4,4.3],[-5.6,14.5],[-0.8,3.1],
[-38.4,-35.5],[-18.4,-31.4],[-16.4,-33.2],[-16.4,-33.9],[-18.5,-40.2],[-15.2,-40.7],[-12.2,-37.4],[-12.6,-38.7],[-12.1,-38.4],[-12.5,-37.9]
];

const red = [
[28.7,24.4],[27.6,23.5],[27.8,23.5],[30.5,24.5],[35.2,26.5],[41,24.8],[40,23.5],[38.2,26.9],[39.3,26.8],[41.6,26.6],[42.5,26.8],[40.9,26.9],[36.2,20.8],[31.7,17.8],[32.4,17.3],[32.6,16.5],[34.9,19.3],[34.8,18.7],[34.7,18.1],[36.4,18.2],[38,18.5],[38.7,18.3],[37.9,17.5],[35.8,16.9],[34.6,16.7],[35.2,16.4],[35.8,16.1],[34.2,15.9],[33.7,15.4],[33.3,15],
[45.7,22.1],[46.3,22.5],[46.9,22.5],[48.8,21.8],[49.3,21.8],[45.3,21.1],[45.2,20.4],[46.7,21.1],[47.4,21.1],[47.4,20.2],[51.8,21.1],[52.5,21.2],[52.2,20.5],[52,19.8],[43.1,18.8],[58.6,18.1],[58.7,18.5],
[45.3,18.6],[45,18],[45.1,17.6],[44.3,18],[44.3,17.2],[42.5,17.5],[41.8,17.2],[41.7,16.5],[42.5,16.6],[43.5,16.9],[43.1,17.1],[46.2,17.7],[46.9,17.8],[47.4,18.1],[47.5,17.1],[48,17.5],[48.5,17.5],[48.1,16.8],[49.7,17.8],[49.9,17.1],[50.5,18.5],[51.1,18],[51.9,17.7],[52.5,17.4],[51.7,16.7],[51.4,16.6],[52.3,16.2],[53.3,16.3],[51.8,16.1],[52.2,15.7],[54.7,16.5],[55.1,16.5],
[46.4,16.2],[46.2,15.6],[46,15],[46.6,15],[47.6,15.8],[47.5,15.2],[47.4,14.5],[42.7,15.7],[43.6,15.3],[43.4,15],[42.5,14.6],[43,14.7],[50.4,15.7],[50.1,15],[50.8,14.9],[51.7,14.9],[51.6,14.5],[54.9,15.2],[55.2,14.6],[56.2,14.3],[56.2,13.6],[56.7,13.9],[56.9,13.5],[56.3,12.9],[56.8,12.9],
[46,13.6],[46.3,13.2],[46.7,13.9],[47,12.7],[47.7,12.5],[43.5,13.2],[44.1,12.9],[39.9,13.2],[39.8,12.7],[39.9,12.2],[41.1,12.9],[42.4,11.9],[42.8,11.9],
[50.8,13.4],[50.6,12.7],[50.2,12.1],[49.9,11.7],[52,11.7],[51.9,11],[52.5,10.7],[51.9,10.2],
[59.4,15],[59.8,14.6],[60,12.5],[59.5,11.5],[60,11.5],[59.3,10.7],[59.3,10.2],[57.1,11.5],[55.9,10.9],[56.6,10.6],[57.1,10.6],[57.4,10.4],[55.4,10.2],[56.2,10],[56.6,9.6],[55.2,9.5],[57.1,9.4],[58,9.8],[58.6,9.7],[58.8,8.9],[58.2,8.6],[57.7,8.9],[55.8,8.7],[56.5,8.5],[56.2,8.9],[54.8,8.3],[54.5,10.4],[54.3,9.9],
[57.1,7.2],[56.7,6.9],[56.3,6.4],[57.1,6.1],[57.4,6],[57.8,5.7],[57.7,5],
[40.4,10.2],[40.4,9.9],[41.3,10.7],[39.5,9.3],[44.2,9.3],[43.5,8.5],[42.9,8.3],[44.2,8],[44.9,8],[43.4,7.2],[45.6,7.2],[44.5,6.4],[43.8,6.1],[44.2,5.7],[45.8,5.7],[46.1,5.3],[45.3,5.1],[45.9,4.6],[45.3,4.4],[44.2,3.7],[45.1,3.6],[45.8,3.5],[43.7,2.6],[44.7,2.9],[44.2,3.2],
[40.4,7.8],[40.8,6.4],[40.8,5.9],[39.8,5.5],[41.8,6.1],[42.2,5.4],[41.4,5.1],[37.9,4.5],[38.3,3.9],[35.8,5.7],[31.8,5.5],[32.4,5.4],[33.4,4.9],[34.9,4.6],[35.5,4.6],[33.6,3],[33.6,2.6],[35.3,2.6],[34.9,1],[35.3,1],
[52.7,8.9],[52.9,8.1],[52.5,7.9],[52,7.2],[50.6,7.4],[51.1,7.2],[51.3,6.9],[51.1,6.2],[51.4,6.1],[50.8,5.2],[50.1,5.7],[49.8,4.6],[50.2,4.5],[50.3,3.9],[50.3,3.2],
[46.7,2.2],[46.3,1.6],[46.1,1],[46.7,1],[47.8,1.9],[47.4,1],[48,1.1],[47.3,0.5],[49,0.9],[49.5,0.8],[48.4,0.6],[45.2,0.6],[50.3,0.5],[49.6,0],[49.7,-0.5],[49.4,-1],[48.4,-1.2],[42.5,1.2],[42.9,0.5],[42.8,-0.1],[40.4,0.1],[40.2,-0.6],[41.4,0.4],[40.6,-1.2],[41.1,-2],[41.4,-1.7],[42.5,-1.9],[43.1,-1.8],[42,-2.4],[42.5,-2.6],[40.9,-2.9],[38.2,-3.3],[39.3,-3.9],[41.7,-3.7],[42.3,-3.5],
[35.4,41],[37.2,35],[41.1,36.1],[46.1,34],[50.6,35],[40.5,31],[39.2,30],[40.1,28.9],[44.5,29.1],[44.4,30.1],[44.2,27.8],[41.5,32.6],[43.6,32.3],[25.1,25.5],[25.5,19.2],
[-40,-42.4],[-34.5,-42.5],[-33.7,-42.2],[-31.6,-41.9],[-31.6,-42.9],[-36.6,-42.6],[-36.8,-43],[-36.4,-43.5],[-35.8,-43.2],[-37.3,-43.7],[-37,-44.3],[-36.9,-44.8],[-29,-43.6],[-27.6,-45.1],[-22.8,-45.7],[-21.2,-45.6],[-20.3,-45.3],[-17.9,-44.7],[-32.8,-45.3],[-32.3,-45.7],[-31.9,-45.6],[-31.2,-45.4],[-33.1,-46.1],[-34.4,-46.9]
];

const brown = [
[-0.9,48],[-0.1,48.3],[1.1,42.9],[5.5,42.2],[-9,21.9],[12.7,27.1],[0.1,20.2],[-11.9,19],[-10.7,16.6],[-12,15.8],[-1.7,3.4],[16.5,29.6],[2.9,12],
[-2.3,-19],[-0.5,-19.1],[0.5,-19.5],[-0.7,-17.1],[1,-17.8],[6.6,-12.1],
[29.4,-23.7],[29.9,-24.3],[30.6,-23.1],[31.7,-24.3],[33.1,-23.2],[29.8,-23.6],
[-31.2,19.9],[-29.8,17.1],[-16.5,20.3],[-18.2,16.9]
];

const olive = [
[-15.9,53.9],[-21.8,42.5],[-19.6,42.1],[-19.5,52.5],[-17.9,52.5],[-1.1,49.4],[-4,49.1],[-9.1,53.5],[-5.9,30],[1.9,32.7],[1.6,35.6],[-15,42.7],[-22.4,34.1],[-24.1,39.3],[-18.3,26.4],
[-5.8,30],[-7.4,23.7],[-5.6,24],[-7.7,22],[-1.9,20.3],[7.5,18.4],[-9.2,13],[2,16.7],[11.1,26.7],[-9.9,25.1],[12.6,14.9],[-10.2,4.9],[-3.2,4.5],[-4.9,4.1],[-1.5,2.2],[-0.8,1.8],[2.4,-5.5],
[-28,25.5],[-30.1,25.8],[-29.2,21.7],[-25.4,21.8],[-24.8,22.3],[-23.2,22.5],[-24.3,21.7],[-27.3,23],[-28.8,16.6],[-31.9,14.7],[-30.7,10.2],[-37.2,8.9],[-35.9,9],[-34.2,4.2],[-25.4,6.1],[-25.3,1.4],[-27.5,-3.7],[-27.2,-5.9],[-20.7,-4.7],[-21.5,-6],[-21.8,-6.9],[-20.3,-6.7],[-16.8,-0.4],[-16.4,5.2],[-17,6.9],[-16.8,20],[-17.8,9.7],[-16.8,-8],[-10.7,-7.2],
[-16.2,-8.9],[-14.1,-8.1],[-11.3,-10.9],[-16.2,-10.7],[-16.2,-11.9],[-12.6,-12.3],[-11.7,-12],[-6.3,-13.2],[-6.4,-13],[-7.6,-15],[-7,-10.9],[-8.3,-16.2],[-3,-16.7],[-4.6,-18.2],[-2.6,-17.9],[-5.4,-20.5],[-2.9,-20.9],[-10.9,-22.3],[-12,-20.2],[-10.4,-20.8],[-9.2,-20.9],[2.2,-20.8],[3.9,-15.6],[0.9,-9.4],[6,-7.4],[11.3,-14.3],[12.6,-12.5],[14.3,-16.6],[4.85,-23.8],[1.5,-26.4],[1.9,-27.1],[6.1,-27.2],[4.7,-28],[3.3,-31.3],[2.4,-33.4],[-0.3,-33.8],[-1.2,-32],[-1.5,3],[-0.8,2],
[26.9,23.5],[27.2,20.2],[50.1,34.6],[50.6,17.4],[54,16.7],[52.9,21.2],[59.1,19.1],[57.5,7.5],[42.1,-0.4],[33.8,-22.5],[33.7,-23]
];

const green = [
[-30,27.5],[-29.3,26.7],[-28.9,26.2],[-29,25.6],[-28.3,25.5],[-30,26.2],[-29.1,24.8],[-32.3,25.5],[-31.9,24.7],[-31.1,24.3],[-31.6,23.6],[-31.5,23],[-32.4,23],[-31.9,22.7],[-30.1,23.2],[-30.3,22.5],[-30.9,21.2],[-31.1,21.7],[-30.5,22],[-27.7,24.5],[-27.5,23.7],[-27.3,22.2],[-26.5,22.3],[-26.8,21.2],[-26.1,21.2],[-24.8,21.6],[-24.4,21.1],[-23.8,22],[-23.5,21.7],[-23.1,23.2],[-22.6,22.5],[-22.3,22.6],[-21.6,23.1],[-21,23.8],
[-36.8,24.5],[-37.2,25],[-36.1,23.5],[-34.8,23.5],[-35.5,22.3],[-36.6,21.3],[-35.2,21.2],[-35.2,20.8],[-35.5,20.2],[-33.9,21],[-33.3,21],[-32.8,21.2],[-32.1,21.3],[-38.8,20.8],[-37.7,21.1],[-38.6,20.1],[-38,20.2],[-37.4,20.3],[-37.1,19.8],[-36.9,20.1],[-36.9,19],
[-36.3,18.2],[-34.9,17.6],[-34.4,17.3],[-34,17.7],[-33.6,17.3],[-33,17.7],[-32.4,18.6],[-32.1,18.8],[-33.7,19.2],[-31.4,19.2],[-30.8,18.5],[-30.1,17.7],[-38.3,17],[-38.5,18.2],[-29.8,17],[-29.7,16.5],[-31.1,16.7],[-28.2,17.7],[-28,17.1],[-28.4,16.4],[-27.2,16.5],[-27,15.5],[-30.9,15.5],[-29.7,15.1],[-29,15.1],[-27.7,14.3],[-26.1,14.4],[-26.1,14],
[-35.2,15],[-35.2,14.4],[-34.9,13.7],[-37.8,14.4],[-37.4,14.4],[-36.4,14.2],[-38.5,13.2],[-38.4,13.7],[-36,13.1],[-35.7,12.7],[-35.4,13.5],[-34.6,13.4],[-34.1,13.6],[-33.7,12.8],[-33.6,12.1],[-32.8,12.3],
[-31.4,13.1],[-30.9,13.1],[-30.6,13.7],[-30.1,13.2],[-34.8,10.1],[-33.8,10.6],[-33.4,11.2],[-33.2,11],[-32.6,10.7],[-32.7,9.5],[-32,9.7],[-32.5,10.1],[-31.3,9.9],[-31,10.6],[-37,9.4],[-36.6,9.1],[-35.2,9.1],[-37,8.2],[-35.8,8.5],[-36.8,7.4],[-35,7.5],[-35.8,6.9],[-35.5,6.5],[-33.5,8.7],[-34.9,5.7],[-34.4,4.8],
[-33.7,4.1],[-33.1,4.1],[-33.4,3.6],[-32.8,3.5],[-33.1,3],[-31.6,3],[-32.2,2.8],[-32,2.3],[-31.8,1.9],[-33.5,2],[-32.8,1.8],[-32.6,1.2],
[-30.3,4.4],[-30.4,2.5],[-30.4,3.3],[-28.8,4.1],[-29.2,4.9],[-29.7,6.6],[-29.3,7],[-28.9,7.5],[-28.8,8],[-28.4,7.6],[-28.9,9],[-29.2,8.8],[-28.4,6.5],[-27.6,7.5],[-27.1,7.4],[-27.5,10.2],[-27.3,9.2],[-27.3,8.5],[-26.6,8.1],[-26.4,10.2],[-26.1,9.4],[-25.1,7.1],[-25.7,6.6],
[-25,5],[-24.6,4.4],[-24.2,4.2],[-23.8,3.6],[-24,3.4],[-22.8,3.9],[-23.1,3],[-25,3.6],[-25,2.9],[-25,2.1],[-24.4,2.4],[-23.9,1.8],[-23.5,1.3],[-24.3,0.6],[-23.8,0.3],[-24.3,-0.1],[-22.8,0.8],[-22.6,0.4],[-22.7,-0.5],[-24,-1.1],[-22.9,-1.1],[-23.2,-1.6],[-22.6,-1.9],[-23.8,-2.5],[-23.2,-2.5],[-22.9,-3.7],[-24.7,-2.6],[-25.4,-3.2],[-26,-3.2],[-26.6,-3.8],
[-28.8,-1.6],[-27.7,-1.7],[-27.1,-1.7],[-27.8,-2.4],[-28.6,-2.5],[-28.2,-3.2],[-29.2,-3.6],[-28.6,-4.6],[-27.7,-5.5],[-27.5,-6.2],[-29.2,-6.3],[-27.2,-7],
[-21,-1.8],[-20.2,-2.9],[-20.4,-3.9],[-21.6,-5.6],[-20.8,-5.5],[-22,-7.2],[-20.1,-7.2],[-20.6,-8],
[-18.3,-4],[-19.3,-5.2],[-17.8,-5],[-16.8,-5],[-16.2,-4.7],[-16.4,-5.5],[-16.8,-2.7],[-18,-6.6],[-18.7,-6.9],[-15.4,-5.5],[-15,-6],[-14.7,-6.7],[-14.7,-7.7],[-13.5,-7.7],[-12,-7.8],[-11.3,-7.5],[-11.5,-8.2],[-10.7,-8],
[-21,5.2],[-20,5.1],[-20.6,3.9],[-20.2,3.6],[-19.8,3.9],[-19.3,3.5],[-18.4,4.6],[-21.6,3.1],[-21.1,2.6],[-20.6,1.8],[-21.5,1.8],[-21.5,0.6],[-20.9,0.4],[-21.6,-0.4],[-17.4,5.6],[-17.2,4.6],[-16.8,4.1],[-16.3,4],[-15.7,3.7],[-15.8,3.3],[-15.4,2.9],[-15.6,6.7],[-14.7,6.7],[-17.2,2.3],[-17.1,1.5],[-16.3,0.1],[-16.3,-0.4],
[-13.2,2.1],[-11.9,1.5],[-11.8,0.8],[-11.1,0.1],[-10.1,1.3],[-9.4,0.9],[-9.1,0],[-11.2,2.3],[-11.3,5.3],[-10.1,3.8],[-8.9,5.3],[-8.1,4.4],[-9.4,3.3],[-10.1,3],[-7.4,5.1],[-6.8,4.7],[-7.3,3.9],[-6.3,2.3],[-5.7,2.8],[-6.3,1.5],[-5.1,1.5],[-4.6,2.1],[-4.1,2.3],[-4.8,3.6],[-6.3,6.9],[-5.3,7.6],
[-8.5,-1],[-7.9,-1.2],[-9,-2],[-8.3,-2],[-8.4,-2.7],[-7.4,-3.9],[-8.4,-4.1],[-7.2,-3.1],[-4.2,-3.9],[-4.6,-4.7],[-4.1,-2.5],[-6.8,-5.2],[-7.5,-5.5],[-6.3,-6.1],[-5.3,-6],[-5,-6.4],[-4.2,-5.2],[-3.4,-5],[-6.9,-7.6],[-7.9,-8],[-6.1,-3.1],[-10.3,-2.4],
[-12.9,15],[-12.2,14.9],[-11.6,14.4],[-11.6,15.7],[-11.3,15.1],[-12.2,18.8],[-9.7,17.7],[-10.5,16.5],[-9.9,16.5],[-9.7,15.6],[-10.6,15.1],[-10,14.5],[-8.3,14.7],[-7.7,14.7],[-7.2,14.4],[-6.2,14.8],[-8.8,13.3],[-9.6,13.2],[-8.7,11.7],[-10.2,12],[-10.6,11.4],[-11,10.9],[-11.3,10.4],
[-4.6,20.2],[-4,19.8],[-3.9,19.5],[-10.1,24],[-9.2,23.3],[-6.5,23.8],[-8.3,23.3],[-3.5,21],[-3.3,15.2],[-3.5,13.9],
[-18.2,20.1],[-15.7,20.2],[-16.2,20.1],[-20.7,17.7],[-19.5,17.7],[-18.5,18.8],[-18.7,17.9],[-18.4,17.7],[-16.8,18],[-16.5,17.7],[-17.2,16.7],[-16.8,17.5],[-18.7,16.7],[-15.6,16.1],[-20.1,16.6],[-20,16],[-18.4,14.4],[-18.5,13.6],[-16.7,12.5],[-15.9,12.4],[-16.2,13.1],[-19.1,12.4],[-19.6,11.2],[-20.2,11.2],[-21,11.1],[-21.3,10.7],[-22,10.7],[-20.2,10],[-20.9,10.5],[-18.8,11.7],[-18.2,11.5],[-18.4,11.2],[-17.2,10.1],[-17.7,9.4],[-16.6,9.6],[-15.8,8.9],[-15.2,9],[-17.6,9],
[-29.2,-6.4],[-27.6,-5.9],[-27.6,-7],
[-21.9,-7.3],[-20.6,-8],[-21,-8.9],[-20.1,-7],[-18.5,-6.7],[-18.1,-7.6],[-14.9,-6.2],[-14.4,-6.9],[-14.7,-7.7],[-14.2,-7.4],[-13.5,-7.7],[-14.7,-8.3],[-16.2,-9.3],[-15.1,-10],[-14.6,-10.4],[-15.6,-10.6],[-16.3,-11.4],[-15.3,-11.9],[-22,-10],[-21.9,-11],[-21,-11],[-20.4,-10.9],[-19.9,-10.9],[-20.5,-12],[-19.9,-12.2],[-19.2,-11.9],[-20.7,-13],[-20.2,-13.2],[-19.4,-13],[-18.3,-12.9],[-17.4,-12.8],[-17.1,-12.9],[-16.5,-12.8],[-15.9,-12.9],[-16.2,-12.4],
[-12.8,-8.8],[-12.1,-7.9],[-11.3,-7.4],[-11.5,-8.4],[-12.1,-9],[-11.2,-8.9],[-14,-11.3],[-13.1,-11.2],[-12.2,-10.9],[-11.9,-11.6],[-12.4,-11.7],[-13.7,-12.6],[-13.8,-13.3],[-10.3,-11.6],[-8.8,-11.5],[-8.5,-12.6],[-8.1,-13.2],[-7.7,-13.6],[-7.6,-14.5],[-7.1,-15],[-6.9,-15.8],[-8.3,-15.6],[-9.1,-16.5],[-7.6,-16.7],[-8.2,-17],[-7,-11.9],[-6.3,-11.9],[-6.9,-12.3],[-5.6,-11.6],[-7.4,-10.2],[-7.1,-10.4],[-6.3,-10],[-6.7,-10.7],[-7.9,-8],[-6.9,-7.6],[-7.4,-9],[-4.4,-9.4],[-4.7,-11.6],
[-8,-18],[-8.3,-18.7],[-8,-19.6],[-9.3,-19.4],[-7.2,-19.6],[-6.3,-19.7],[-6.2,-20],[-12.1,-19],[-11.6,-19.2],[-10.6,-19.5],[-10.6,-20.2],[-10.4,-20.9],[-9.6,-20.9],[-9,-20.8],[-8.6,-20.3],[-7.8,-20.2],[-7.2,-20.8],[-8.2,-21.2],[-7.4,-21.5],[-6.4,-20.8],[-12.1,-20.3],[-12.2,-21.2],[-13.1,-22],[-12.2,-22.1],[-11.3,-22],[-11,-22.2],
[-4.1,-20.9],[-3.8,-21.2],[-2.9,-21.5],[-2,-21.4],[-1.5,-21.3],[-0.7,-21.6],
[-4.4,-18],[-3.8,-16.9],[-3.2,-17.6],[-2,-17.3],[-1.7,-16.3],[-1.2,-17.2],[-0.1,-17.3],[-2,-18.2],[-1.3,-18.5],[-2.6,-19.3],[-0.1,-19.6],[0.6,-17.9],[1.3,-19.5],[1.7,-20.1],[1.7,-21.3],[0.8,-21.9],[1.5,-21.9],
[4.7,-17],[5.6,-17.5],[3.7,-18],[4.4,-18.5],[4.6,-19.5],[3.85,-20.7],[3.5,-21],[6.9,-17],[7,-17.7],[7.6,-17.9],[8.5,-16.6],[10.1,-17.7],[10.1,-19.2],[1.9,-22.8],[2.1,-23.5],[2.4,-24.4],[3,-24],[3.3,-22.9],[3.7,-23.2],[4.75,-22.5],[4.9,-23.2],[5.45,-23],[5.8,-23.6],[6.5,-22.9],[6.9,-22.8],[7.2,-21.9],
[5.8,-11.3],[6.1,-12.2],[6.9,-10.7],[6.9,-11.9],[5.8,-12.4],[5.8,-13.2],[6.7,-13.6],[7.4,-13.6],[5.1,-14.3],[3.9,-14.7],[8.3,-14.7],[9.4,-14.6],[9.2,-15.5],[9.8,-13.9],[12.1,-14.9],[12.1,-13.8],[14.1,-14.3],[13,-15.7],[9.7,-12.6],[10.6,-11.2],[10,-17.3],[12.3,-13.3],[14.3,-16.6],
[15.6,-20.5],[11.5,-20.5],[12.8,-20.9],[13.3,-21.6],[11.5,-21.3],[11.8,-23.3],[18.4,-22.5],[19.7,-22.9],[13,-23.8],[17.3,-23.6],[18.3,-23.8],[18.7,-24.3],[18.6,-25.2],[14.5,-25.2],
[5.5,-5.9],[6.4,-5.9],[6.5,-6.1],[6.7,-8],[7.8,-7.4],[1.5,-7.9],[2.1,-7.3],[3.4,-10.3],[4.4,-10.4],[4.6,-10],[1.8,-10.4],
[2.2,-25.9],[1.5,-26.6],[0.8,-27.6],[1.35,-27.2],[0.3,-28.2],[0.3,-28.9],[0.1,-29.6],[0.8,-29.3],[1.5,-30.2],[1.2,-30.5],[-0.3,-30.1],[-0.6,-30.9],[-0.3,-31.1],[-1.4,-30.9],[-1.2,-32],
[2.6,-27.2],[3.5,-27.6],[3.5,-28.4],[4.4,-27],[4.4,-27.8],[5.5,-28.2],[5.45,-28.6],[6.2,-28.8],[6.2,-27.4],[6.8,-28],[7.8,-27.9],[8.6,-28.6],[8.7,-30],[8.3,-30.4],[6.9,-30.6],[7.2,-30.8],[8.3,-31.6],[0.5,-32],[0.8,-31.7],[1.7,-31.3],[1.9,-32.6],[2.8,-32],[3.3,-32.2],[3.85,-32.1],[3.85,-32.6],[4.75,-31.6],[5.1,-32.1],[4.6,-32.8],[4.9,-33.2],[3,-33.7],[3,-34.2],[3.1,-35],[2.4,-35.4],[4.3,-35],[4.7,-35.4],[1.2,-33.4],[-1.5,-33.4],[-1,-33.2],[-0.8,-33.8],[-1,-34.4],[-1.2,-34.8],[-4.3,-29.6],[-3.8,-27.6],[-3.9,-28.2],[-3.1,-28.4],[-2.5,-28.2],[-2,-27.5],
[-14.4,60.3],[-15.4,59.6],[-20.2,49.9],[-19.7,51],[-19.2,51.5],[-19.3,52.6],
[-26.2,44.5],[-22.9,45.6],[-24.9,44.4],[-22.8,44.1],[-24.7,39.8],[-23.3,39.5],[-24.2,38.7],[-23.2,38.8],[-24.9,38.7],[-21.2,39.5],[-21.3,40.4],
[-27.2,35.4],[-26.6,36],[-25.9,36.5],[-27.5,35.3],[-26.6,35.2],[-27.5,34.8],[-25,34.4],[-25.3,33.8],[-24.5,33.6],[-24.1,31.9],[-25.2,31.6],[-26.7,30.6],[-25.8,31.1],[-25,30.7],[-25.8,30.3],
[-20.7,31.6],[-22,31.7],[-19.3,30.4],[-19.7,33.5],[-22.1,29.9],[-21.7,29.6],[-21.6,26.6],[-21.4,25.6],[-21.6,24.6],[-20.1,28],[-19.3,28.7],[-18.8,28.8],[-19.2,27.1],[-18.5,25.8],[-18.8,24.9],[-21,23.7],[-23.5,23],[-23,22.7],[-22.4,22.5],[-21.6,23],
[-10.1,23.9],[-9.3,23.2],[-8.3,23.1],[-9.9,29.9],[-8.7,28.5],[-7.2,27.1],[-5.1,30.6],[-1.7,35],[-2.1,33.5],[3,31.6],[3.7,31.7],[-12,48.9],[-2,24.5],[-0.4,21.8],
[-0.3,21.8],[-4.5,20.2],[-3.9,19.6],[-3.4,15.5],[-3.6,13.9],[-1.7,14],[1.1,15.1],[3,12.6],[18,9],[11.1,-3.9],[0.6,-2.6],[1.1,-3.6],[2.7,-5],[3.8,-4.9],[5.5,-5.9],[6.4,-5.9]
];

const sky = [
[33.6,-22.1],[33.5,-22.5],[32.8,-23.1],[32,-23.4],[32.2,-23.8],[33.1,-23.6],[31.2,-23.8],[31.9,-24.2],[32.7,-24.3],[32.4,-24.8],[33,-25],[31.9,-24.7],[30.9,-24.8],[30.4,-24.8],[30.2,-23.7],[29.1,-23.9],
[30.4,-25.7],[30.4,-26.1],[31.2,-26.7],[31.8,-26],[32,-26.6],[31.7,-27.1],[30,-26.9],[30,-27.1],[31.3,-27.4],[31.5,-28.2],[30.9,-28],[31.7,-27.7],[31.1,-27],[30.5,-27.5],[29.7,-27.8],[30,-28.6],[30.7,-28.5],[30.3,-27.9],[29.6,-28.4],[30.2,-28.2],[29.9,-28.7],
[32.9,-28.2],[32.6,-29],[33,-29],[32.5,-29.2],[32.3,-29.5],[33,-28.8],[32,-29],[31.2,-30],[30.3,-28.9],[29.7,-29.2],[30,-29.8],[30.2,-30.3],[30,-31],[30.2,-30.7],[29.2,-29.9],[30.5,-28.7],[30.4,-30.7],
[30.3,-29.6],[30,-30.2],[30.2,-31.5],[30.2,-32.1],[30,-33],[30.3,-33],[30.4,-32],[28.6,-30.8],[26.6,-31.7],[27.3,-31],[27.6,-32.2],[26.2,-32.2],[27.5,-33.5],[28.2,-33.2],[29,-32.2],[29.8,-31.4],[29.5,-31],[29.9,-32.5],[29.2,-32.7],[29.1,-33.3],[30.7,-33],[30.7,-33.7],[30.1,-33.9],
[28.5,-33],[28,-32],[29.3,-33.3],[28.7,-33.8],[28,-32.2],[27,-33.5],[26.7,-33],[28,-33.4],[29,-34.7],[28.3,-35.3],[27.3,-33],[28.7,-32.5],[29.7,-31.7],[31,-35.5],[30.6,-35.6],[30.6,-36.5],[31.1,-36],[30.5,-37.4],[30.5,-36.5],
[26.4,-35.3],[26.8,-36.8],[27.1,-37.2],[27.9,-36.8],[28.1,-37.5],[25.6,-35.3],[28.5,-36],[29,-35.3],[29.4,-35.3],[28.6,-35.7],[28.1,-36.2],[28.7,-37],[29.4,-37.2],[29.7,-36.7],[29.7,-38],[29.2,-38.6],[28.8,-38.7],[30,-38.5],[30.9,-38.2],[30.2,-36.6],[30.3,-35.7],[30.8,-39.7],[30.9,-40.2],[30.2,-39.5],
[29.6,-39.2],[28.5,-40],[27.5,-40],[28.4,-38.5],[27.8,-37.9],[28.4,-39.2],[28.1,-39.5],[27.7,-40.2],[27,-40.2],[28.3,-38.9],[27.6,-39.7],[27.9,-38.7],[28.1,-41],[28.7,-41.2],[29.1,-41.2],[29.6,-41],[27.5,-42.6],[27.8,-43],[28.5,-42.1],[28.4,-41.4],[28.8,-42.1],[28.5,-42.6],[29.1,-41.8],[29.6,-42.6],[29.9,-41.7],
[31,-39.8],[31.1,-40.8],[30.6,-40.9],[30.4,-43.8],[30.6,-41.5],[30.6,-42],[30.2,-40.2],[29,-43],[28.5,-43.4],[27.5,-43.2],[29.3,-43.6],[28.8,-44],[29.1,-44.6],[29.1,-45.6],[29.8,-45.1],[30.2,-44.4],[29.7,-43.5],[28.5,-44.2],
[25,-38.2],[25.1,-38.8],[24.3,-39.4],[24.7,-39.6],[24.4,-40.3],[23.3,-40.5],[23.5,-40.2],[24.5,-40.9],[26,-40.3],[26.7,-40.1],[26.2,-41.2],[24.7,-41.1],[24.9,-42.4],[24.4,-41.7],[25.2,-43],[25.5,-43.6],[26.5,-42.5],[26,-41.2],[25.5,-41.8],[26.7,-42.3],[25.7,-43.2],
[24,-41.8],[23.4,-42.2],[23,-42.7],[21.1,-41.7],[21.2,-42.2],[22.2,-41.4],[22.2,-42.3],[21.8,-42.8],[21,-43.5],[22.1,-43.2],[23,-43.3],[23.8,-43.9],[22.3,-43.5],[22.8,-44.4],[21,-44.7],[22.1,-44.8],[22.4,-45.6],[23.4,-45],[23.8,-45],[24.2,-45.3],[23.5,-46],[23.8,-46.2],[24.3,-46.5],[25,-46.2],[24.9,-44.4],[24.7,-45.8],[23.2,-46.5],
[20,-45.3],[20,-45.7],[20.1,-46],[20.6,-46],[19.7,-47],[19.8,-46.3],[18.2,-44.8],[18.1,-44.3],[18.7,-45.4],[20.5,-47.2],[20.6,-47.8],[20.4,-48],[21.8,-48],[20.4,-46.9],[23,-45.8],[22.7,-48],
[22.4,-48],[23.9,-48.7],[24.6,-47.2],[25.2,-47.1],[26.3,-47],[26.6,-47.2],[27.7,-45.8],[27.9,-47],[27.7,-48.4],[26.8,-47.8],[26.2,-47],[25.6,-47.2],[25.1,-46.4],[24.5,-45.2],[24.3,-47],[24.3,-48.3],[25,-48.5],[25.2,-49],[25.1,-49.5],[26,-49],[26.3,-48.8],
[26.6,-49.3],[26.4,-49.9],[25.8,-49.9],[25.5,-48.9],[27.6,-49.6],[26.9,-50.7],[26.2,-50.8],[25.3,-48.1],[26.9,-50],[26.3,-48.4],[25.9,-48.4],[27,-49.5],[28.1,-47.5],
[26.1,-52],[25.9,-52.6],[27,-52.5],[27.3,-53.4],[25.6,-52],[26.9,-53.5],[27.5,-52.5],[27.3,-50.3],[26.4,-53],[26.1,-53.5],[25.4,-52.6],[25.7,-51.2],[24.2,-52.5],[24.2,-52.9],[23.1,-53.3],[23.1,-54.3],[22.5,-54.3],[22.8,-54.1],[23.3,-55],[23.5,-52.1],[22,-53.8],[21,-51.5],[21.9,-51.7],[21.8,-52.2],[21,-51],
[18.3,-52.5],[18.5,-51],[19.2,-51],[19.9,-50],[20.2,-50.6],[20.3,-53],[19.4,-51.4],[18.9,-52],[18.5,-53.3],[19.7,-52.8],[19.5,-53.5],[20.1,-52.2],[19.3,-54],[18.9,-55],[19,-55.5],[19.8,-55.5],[20,-54],[20.5,-55.5],[20.1,-55.7],[20.6,-54.6],[20.3,-54.5],[21,-53.3],[21.3,-54.7],[21.1,-55.1],
[21.3,-52.6],[21.1,-54],[20.6,-55.7],[20,-56.2],[21.6,-56.2],[21.1,-56.5],[21.2,-55],[20.6,-56],[18.4,-52],[17,-52.8],[17.3,-54],[17,-54.5],[15.9,-54.5],[17,-55],[16.7,-54.7],[15.8,-55.2],[16,-56],[17,-55.4],[18.7,-55.7],
[16.8,-56.2],[18.4,-57],[18.8,-58],[19,-55.7],[19.5,-58.8],[18.8,-58.8],[15.7,-58],[16,-58],[16.6,-58.2],[16.9,-58.5],[17.5,-58],[15.7,-57.5],[16.4,-57],[16.5,-58.9],[17,-56.8],[16.9,-56],[17.5,-58.7],[17.2,-59.5],[16,-59],[15.6,-59.3],
[17.7,-59.4],[18,-59.3],[18.4,-59.6],[20.4,-59],[19.2,-58.7],[17.2,-55.9],[17.2,-59.2],[18.4,-59.2],[16.8,-59.5],[18.2,-57.5],[18,-58]
];

const purple = [
[-13.8,59.5],[-13.3,59.6],[-12.8,59.6],[-13.2,59],[-11.9,58.9],[-12.4,58.2],[-12.8,57.3],[-12.2,57],[-11.4,57.4],[-11,57.4],[-10.4,58.2],[-10,57.3],[-9.4,57.9],[-10.8,56.6],[-11.6,56.2],[-11,56.1],[-9.9,56.1],[-9.6,55.6],
[-14.9,59.2],[-16.3,58.5],[-16,58.7],[-15.3,58.5],[-16.1,57.8],[-17,57.1],[-17,56.3],[-16.6,56],[-15.9,56],[-17,55.4],[-16.2,55.3],[-15.6,55.6],[-13.3,56.2],[-13.8,55.7],[-13.1,55.3],[-14.7,54.8],[-13.9,53.8],[-14.5,53.7],[-14.9,53.3],[-12.7,52.8],
[-18.7,53.4],[-17.7,53.8],[-17.1,53.3],[-15.9,52.9],[-19.1,52.4],[-18.3,52.1],[-17.6,51.9],[-18.3,51.3],[-17,51.9],[-16.3,52],[-15.8,52],[-16.4,51.3],[-20.9,51.7],[-20.6,51],[-20,50.2],[-15.1,51],[-14.4,50.6],[-17.2,49.8],[-16.4,49.5],
[-9.5,54.1],[-9,54.3],[-8.2,54.4],[-5.4,54],[-5.2,54.4],[-4.7,52.6],[-7,52.8],[-6.6,52.4],[-5.7,51.7],[-7.3,51.4],[-9.3,50.4],[-8.5,50.6],[-8.1,50.4],[-8,49.5],[-6.8,49.8],[-6,49.2],[-5.4,48.8],[-4.5,48.8],[-4,48.8],[-3.4,48.8],[-4.1,48.5],[-3.4,47.8],[-2,50.4],[-1.6,49.6],[-1.2,49],[-0.3,48.3],[0.5,48.6],[0.7,49.4],[1.1,48.7],[1.6,49.6],[2.8,49.2],[-2.3,46.7],[-1.8,46.9],[-2.1,46.2],[-1.7,45.8],[-2.8,45.8],[-2.6,45],
[8,46.9],[7.9,46.1],[9.2,47.5],
[-12.8,49.4],[-12,49.4],[-11.8,49.5],[-12.5,48.5],[-12.2,48.2],[-11,48.7],[-10.6,48.4],[-15.6,47.5],[-14.1,47.8],[-13.8,47.3],[-12.1,46.6],[-11.4,46.5],[-11.9,45.6],
[-22.6,45.8],[-25.6,44.9],[-24.5,45],[-23.4,44.5],[-21.7,44.9],[-22.4,44.1],[-25.1,44],[-24.3,43.6],[-24,43.6],[-25.9,43.5],[-26,43.2],
[-17.6,44.1],[-16.1,44],[-18.3,43.5],[-18,42.1],[-20.9,42.8],[-20.8,42.3],[-23.5,42.3],[-22.4,41.7],[-21.8,41.2],[-23.5,40.9],[-23.7,40.5],[-24.5,39.8],[-24,39.9],[-20.4,40.4],[-20.4,38.9],[-19.6,38.7],[-22.2,39.6],
[-16.3,41.6],[-16.2,40.2],[-15.1,41],[-14.5,41.2],[-14.7,39],[-15.7,38],[-17.5,38.7],[-17,36.2],[-15,36],[-19.2,35.9],[-18,36.6],[-12.8,37.3],[-7.4,41.5],[-6.3,42.1],[-7,44.2],[-7.9,43.6],[-4.2,44.2],[-3.9,42.1],
[-23.2,35.8],[-23,35.2],[-21.6,35.4],[-22.2,34.8],[-21.7,34.5],[-26.2,34.5],[-25.9,35.8],[-24.5,32.9],[-24.5,32.1],[-21,33.9],[-23.3,34],[-20.9,32.9],[-21,32],[-21.6,31.6],
[-17.3,32.1],[-16.7,32],[-25.7,30.6],[-21.8,27.4],[-19.9,25.8],[-10.1,29.9],[-9.9,29.4],[-9.3,29.5],[-8.5,29.8],[-8.4,29],[-8.3,28.2],[-7.6,28.3],[-7.1,28.3],[-6,27.7],[-8.3,27.6],[-7.4,26.9],[-6.4,31.7],[-7.1,31],[-6.8,30.3],[-6,33],[-10,27.9],
[-2.1,36.6],[-1.2,38.6],[-1.3,38],[-1.8,37.4],[-2,36.7],[-2.1,36.4],[-1.7,35.8],[-1.2,35.3],[-0.6,34.9],[0.1,35.4],[-0.4,37.8],[1.1,37.5],[1.7,36.1],[2.3,35.7],[3.2,35.8],[2.8,35.6],[-2.6,35.2],[-4.1,34.6],[-4.6,34.5],[-3.2,34.1],[-2.5,35.2],[-3.7,33.5],[-1.8,33.1],[-1.5,32.5],[-0.8,33.2],[-2.4,32],[-2.8,30.7],[-2.4,29],[-1.2,28.3],[0.8,32.7],[1.2,32.1],[0.5,30.4],[1.3,30.4],[2.1,30.8],[2.8,31.2],[3,33.6],[3.2,33],[3.6,31.6],[2.7,30.8],
[2.7,43.9],[3.3,43],[3.8,43.3],[4.4,43.6],[5,44.2],[5.4,43.5],[6,42.2],[5,42.3],[4.5,42.1],[3.6,41.7],[1.3,42.8],[0.4,43],[-0.1,42.4],[-0.5,41.9],[1.2,41.7],[-0.9,41],[-1.3,40.3],[0.5,40.6],[1,40.6],[1.2,40],[1.5,39.8],[3.6,39.5],[4,39.8],[2.8,39],[4.9,40.4],
[0.5,30.5],[1.3,30.6],[2,30.6],[2.4,30.5],[2.9,31],[3.6,31.7],[-2.4,29],[-1.1,28.3],[7.6,26.1],[7,26],[8.4,26.3],[8.9,27.6],[10.6,26.8],[11.4,27.5],[11.9,27.8],[12.3,28],[12.7,28.2],[13.2,28],[14,29.3],[14.9,29.6],[9.8,24.9],[10.4,24.4],[10.8,22.8],[10.8,22],[7.6,20.5],[6.5,18.7],[10.8,18.9],[1,21.1],[2.6,19.7],[3.3,18.1],[0.3,17.4],[-1.2,18.7],[2.8,12],[12.4,31.3],[13.2,31.1],[14,31.8],[15.9,31.5],[17.1,32],[17.6,29.7],[18,32.1],[6.5,26.1],[5.8,19.6],
[15.9,45.3],[32.1,45.6],[28.6,44.2],[31.1,44.2],[33.8,43.4],[34.3,42.5],[34.8,42.5],[35.3,41.8],[35.8,41.8],[29.8,42],[31.4,42.3],[33.4,41.3],[35.9,40.2],[35.9,39.4],[36.5,39],[37.2,38.4],[36.5,38.5],[29.8,40],[33.6,39.2],[34.9,37.6],[36,36.8],[35.3,35.8],[37.2,36.3],[37.3,33.5],[38.3,36.1],[38.5,35.5],[39.1,35.4],[40,37.5],[40.8,37.9],[41.6,37.1],[42.1,36.7],[41.8,36.1],[41,35.8],[40,35.5],[40,34.8],[41.3,34.6],[42.3,34.6],[40.7,34],[43.6,35.8],[43.8,37.5],[44.5,38.2],[45,37.1],[46.1,36.8],[44.9,35.8],[45.8,35.5],[45.8,34.8],[45.8,34],[46.3,33.5],[46.3,32.9],[46.6,35.9],[47.1,37.1],[47.3,36.7],[48,35.1],[48.7,34.7],[48.7,33.9],[49.5,33.9],[49.5,32.5],[50.1,35.4],[51,35],[51.6,34.4],[51,33.8],[50.5,33],[51.1,33.1],[51.3,32.2],[51.4,31.8],
[42.5,32.5],[42.8,33.3],[43.4,32.7],[41.8,32.7],[44,32],[44.7,31.1],[44.7,30.2],[44.8,29.4],[40.6,31.5],[39.2,29.1],[42.2,29.9],[42.4,28.8],[43,28.8],
[17.7,29.6],[15,29.6],[14,29.2],[13.2,28],[12.6,28.1],[12,27.9],[11.5,27.5],[12.4,31.3],[13.1,31],[13.8,31.7],[15.9,31.5],[17.1,31.9],[18,32.1],[18.5,32.2],
[26.3,23],[27.8,24.2],[26.2,22],[26.3,21.4],[26.3,20.7],[25.6,19.6],[46,22.9],[46.9,22.6],[45.9,21.2],[47.4,20.6],[51.8,21.7],[53.5,21.2],[42.8,19.4],[35.4,20.1],[59,20],[59,19.1],[24.1,37.9],
[-38.2,26.3],[-38,25.8],[-37.1,24.8],[-37.7,23.8],[-35.7,24.6],[-35.5,23.6],[-35.5,23],[-36.3,22.5],[-36,21],[-33.8,20.7],[-31.2,24.4],[-30.1,24.5],[-31.2,22.5],[-31,21.8],[-30.9,26.5],[-30.4,27.1],[-30,27],[-35.8,18.1],[-31.2,19.3],[-38.5,17.8],[-37.6,17.7],[-37.8,15.8],[-36,14],[-26.8,23.1],[-26,21.6],[-27,21],[-23.4,23.3],[-21.5,23.2],[-21,23],[-21.8,27.4],[-19.8,25.9],[-18.3,26.7],[-17.4,19.3],[-26.8,9.5],[-29.1,5.9],[-30.4,3.8],[-9.4,25.5],[-9.6,24.6],[-7.8,24.3],[-8.2,22.8],[-7.7,22.6],[-8.9,21.6],[-7.1,21.2],[-5.3,24.8],[-4.7,24.1],[-4.4,22.9],[-3.5,21.5],[-11.1,20.7],[-11.4,20.1],[-9.1,16.5],[33.9,-21.9]
];

const pink = [
[-15.4,59],[-14.1,55.1],[-13.6,54.6],[-9.8,53.4],[-8.4,53.5],[-6,53.1],[-4.9,54.7],[-16.8,52.7],[-15.3,52.6],[-14.9,52.4],[-20.2,51.7],[-19.3,50.8],[-13.4,51.6],[-15.1,50.6],[-14.6,50.9],[-7.7,51.5],[-7.6,50.2],[-7.1,50.2],[-2.5,49.6],[-3,47.9],[-2.1,47.4],[-3.5,46.7],[-9.2,48.5],[-11.4,48.4],[-15,47.9],[-12.9,47.5],[-13.5,46.9],[-12.2,46],[3.6,48.9],[6.6,46.3],[7.2,46.1],[8,47.7],[8.6,47.2],[10,47.5],
[-22.4,45.1],[-20.9,44.1],[-16.7,44.3],[-18,43.3],[-17.8,43.5],[-16.7,43.6],[-15.3,42.8],[-15.3,43],[-5.6,46],[-6.5,45.7],[-6.8,45.2],[-7.4,44.7],[-4.1,44.8],[-4.7,43.9],[-4.8,43],[-5.7,42.9],[-11,43.7],[-12.5,43.7],
[-20.7,41.5],[-20.7,40.8],[-21.8,40.2],[-22.2,39.7],[-20,39.8],[-19.7,39.1],[-25.1,38.3],[-16.1,41.6],[-17,40.7],[-16.3,40.8],[-15.7,40.6],[-15.1,40.5],[-14.6,41.7],[-14.9,41.4],[-14.2,40.2],[-14.7,38.5],[-12.2,40.7],[-12.5,40.3],[-12.8,39.1],[-12.2,39.1],[-13,38.5],[-9.6,40.4],[-9,40.3],[-7.5,40.9],[-7.6,39.8],[-17.8,38],[-15.8,37.8],[-16.2,37.1],[-14,36.7],[-15.6,36.2],[-17,35.5],[-16.4,35.7],[-18.4,35.9],
[-25.3,35],[-24.9,32.9],[-25,32.1],[-26.1,30.6],[-21.9,31.3],[-23.1,33.7],[-21.8,34],[-20.5,35.2],[-20.7,34],[-20.7,33.5],[-21.4,33],[-19.3,32.9],[-18.7,33.1],[-18.2,33.2],
[-18.5,30],[-17.7,31.8],[-17.9,31.1],[-17.2,30.4],[-16.6,29.6],[-15.6,31.9],[-14.9,31.9],[-14.3,31.4],[-15,30.7],[-15.3,29.8],[-10.9,30.2],[-9.3,28.9],[-10,27.9],[-6.8,29.2],[-6.6,28.6],[-6.8,30.8],[-6.1,30.8],[-6.1,32.7],[-3,32.4],[-2.8,31.2],[-2.4,29.8],[-1.4,29.9],[-0.1,29.9],
[-22.1,28],[-20.9,28.2],[-20.5,27.4],[-19.2,27.9],[-18.9,28.2],[-18.7,27.5],[-21.5,26.1],[-19,25.3],
[-5.2,24.9],[-1.7,24.5],[-0.3,23.7],[0.4,23.3],[0.85,23.4],[-0.3,22.7],[1.2,23],[-1.6,22.8],[-1.6,22.4],[-2.4,21.6],
[9.1,26.6],[6.7,25.6],[9.5,24.3],
[-11,20.2],[-10.7,18.3],[-6.2,21.4],[-5.2,21],[-2.3,21.7],
[-1.8,19.9],[-0.5,18.7],[0.2,18.1],[2,20.3],[2.3,19],[2.5,18.4],[2.5,17.2],[0.8,17.1],[1.2,16.7],[1.7,17.2],[2,16.3],[0.7,16.2],[0.1,15.7],[1.7,15.4],[4.2,15.4],[3.8,14.9],
[-2.2,16.1],[-1.8,16.5],[-1.4,16.9],[-0.9,17.2],[-0.6,17.1],[-1.2,16.4],[-1.5,15.4],[-7.4,16.8],[-10.3,16.4],[-10.1,15.5],[-10.8,15],[-8.4,14.1],[-9.7,12.7],[-3.1,13.6],[-1.1,12.6],[-1.7,11.8],[-1.8,11.2],[-0.8,11],[-0.25,10.5],[-0.95,10.5],[1.55,11],[2.8,11.5],
[10.7,25.4],[10.9,24.8],[11.4,25.8],[12.6,26.3],[10.6,23.7],[10.8,23.5],[11.2,22],[11.8,21.5],[12.1,21.6],[13.6,21],[12.6,19.9],[11.3,19.7],[10.1,19.6],[8.9,20.5],[7.3,21.5],[5.7,20.2],[6.4,20.1],[5.7,19.4],[7.8,19.6],[8.2,18.8],[7.3,18.9],[5.5,18.4],[6.2,17.9],[7,18],[7.9,17.2],[9.3,17.9],
[9.4,16.3],[9.3,13.1],[8.8,12.5],[8,11.6],[11.4,15],[12.1,15],[7.4,8.6],[11.9,8.7],[15.4,2.1],[19.4,9.5],[6.2,7.5],[8,7.2],[5.5,6.8],[4.3,6.8],[6.6,6.4],[6.4,4.8],[12,4.2],[13,3.8],[14.2,1.2],[12.9,-1.7],
[11.5,-1.9],[11.9,-2.5],[12.3,-2.7],[13.4,-3.8],[10.8,-4.4],[10.5,-4.9],[10,-6.1],[7.8,-6.5],[12.9,-5.5],
[-8,8.4],[-7.8,7.8],[-5,8],[-7.2,6],[-5.7,5.9],[-4.1,6],[-3.2,5.3],[-2.7,5.1],[-1.1,5.3],[0.5,5.6],[-9.4,4.3],[-8.3,3.7],[-7,3.3],[-4.5,4.1],[-2.1,3],[-2,1.7],[-1.2,0.9],[-0.7,2.1],[1,1.6],[1.8,2.9],[2.2,2.8],[2.9,2.2],[3.7,1.8],[-11.8,2.3],[-11.7,0.1],[-9.1,-0.4],[-6.1,0.7],[-5.6,0.9],[-6.5,-0.4],[-6.8,-1.1],[-3.9,0],[-3.4,0.3],[-3,0.4],[-0.4,-0.7],[-7.4,-2.1],[-7.6,-3],[-6.3,-3.6],[-5,-4],[-9.7,-4.1],[-8,-5.5],[0.8,-1.5],[1.2,-2.4],[1.5,-2.9],[1.2,-3.4],[2.4,-3.7],[-0.6,-3.4],[3.6,-3],[3.8,-4],[4.5,-4.1],[3.4,-4.8],[2.3,-5.5],
[7.8,-6.4],[6.1,-6.8],[7,-7.4],[4.4,-9.5],[18.8,-9.5],[14,-8.6],[10.3,-10.4],[-5.4,-10.1],[-4.6,-11.9],[-10.2,-7.8],[-18.4,-5.1],[-15,-9.2],[-28.8,-3.6],[12.7,-6.5],[10.5,-5],[10.8,-4.4],[13.4,-3.8],
[-21.5,26.2],[-19,25.3],[-22.1,28.1],[-20.5,27.5],[-10.1,27.9],[-11,20.1],[-17.4,20],[-19.6,19.4],[-20.2,18.8],[-20.7,18.4],[-19.4,18.1],[-17.6,18.3],[-18.4,17],[-16.1,16.7],[-19.3,5.4],[-15.4,6.2],[-15.7,5.5],[-18.1,3.2],[-17.3,2.8],[-27.9,15.9],[-25.4,18.2],[-29.3,5.4],[-29.7,3.8],[-36.4,8.1],[-18.5,-5.1]
];

const orange = [
[10.5,2.8],[10.7,3.9],[9.4,4.5],[13.9,2.6],[16.1,2.9],[14.6,1.6],[15.8,0.3],[14.2,0.45],[14.8,-0.3],[13.8,-1.1],[14.6,-0.8],[11.1,-1.2],[13.3,-3.2],[14.7,-3.3],[11.5,-3.3],[17.6,-1.2],[18.3,-0.7],[18.9,-1.5],[19.2,-2.4],[19.4,-3.05],
[16.7,-4.4],[16.5,-5.1],[15.7,-5],[15.6,-5.8],[14.3,-4.6],[14.5,-5.3],[13.2,-5.1],[11.1,-5.1],[12.9,-6.1],[12.5,-7.3],[13.4,-6.7],[15.3,-6.9],[14.6,-7.5],[16.7,-5.9],[16.9,-6.4],[17.1,-7],[16.4,-7.4],[17.4,-7.6],[18.3,-7.8],[17.8,-8.3],[16.9,-7.6],
[11.5,-9.4],[11,-9.7],[10.5,-10.3],[10.6,-10.9],[9.9,-11.4],[9.7,-12],[14.5,-9.7],[14.3,-10.7],[14.7,-11.2],[16.5,-9.3],[15.7,-10.3],[16.4,-9.9],[17.9,-9.6],[17.1,-10.9],[16.6,-10],[19.4,-9],[19.2,-9.9],[19.7,-9.7],[20.1,-10.7],[21,-10.9],[21.5,-11.3],[22.6,-10.2],[22.8,-9.9],[22.8,-11],[20.3,-11.4],[21.2,-11.9],[22.3,-11.7],[22.4,-12.4],[21.5,-12.7],[22.4,-13.2],[22.8,-13.9],[23.1,-14.6],[23,-15],[22.6,-15.6],[21.2,-16.4],[21.7,-16.6],[22.4,-16.5],[22.5,-16.9],[21.9,-17.3],[21.7,-17.9],[18.9,-15.8],[18.5,-16.3],[18,-16.6],[17.5,-17.2],[17,-16.8],
[15.8,-12.2],[16.5,-12.6],[16.9,-12.9],[17.5,-13.2],[17.1,-14.2],[17.6,-14.3],[17.8,-14.9],[18.6,-14],[18.5,-14.7],[18.3,-15.3],
[12.8,-12.9],[13.4,-12.7],[14,-13.1],[12.8,-14.5],[13.3,-15.7],[14.9,-14.7],[15.5,-14.9],[15.8,-15.6],[14.4,-15.3],[14.6,-15.9],[12.7,-16.8],[15.6,-16.7],[15.1,-17.3],[14.7,-17.9],[15.8,-18],[15.1,-18.9],[15.3,-19.6],[14.8,-19.2],[12.8,-19.5],
[20.8,-18.3],[20.8,-18.9],[20.3,-19.6],[20.1,-20.2],[20.5,-20.9],[21.5,-19.9],[16.9,-20.2],[16.8,-20.6],[14.8,-20.5],[14.4,-21],[11.5,-19.8],[11,-20.2],[10.6,-18.8],[12.1,-21],[12.6,-21.2],[13.3,-22],
[10.4,-22.1],[10.6,-22.7],[11.2,-23.2],[12.8,-23.1],[12.9,-23.7],[13.8,-23.5],[14.3,-24.2],[16.3,-24.4],[15.5,-24.5],[15.2,-25.1],[14.8,-25.5],[14.8,-22.9],[15.6,-22.8],[17.1,-21.9],[17.6,-21.3],[17.8,-22],[16.9,-23.2],[17.4,-22.9],[19,-23.6],[19.2,-21.3],[19.7,-21.8],[20.5,-22.6],[20.9,-22.1],[20,-22.5],
[9.6,-13.5],[8.8,-14],[10.3,-15],[6.8,-14.3],[4.5,-14.8],[3.1,-15.2],[5,-14.2],[5.8,-13.7],[9.8,-17],[8.9,-16.8],[8.3,-17.3],[8.5,-17.7],[9.6,-18.1],[7.2,-18.5],[7.2,-19.1],[5.7,-18.2],[5.3,-18.5],[4.8,-18.5],[4.6,-21],[4.75,-21],[7.1,-22.2],[1.2,-18.3],[1.5,-17.9],
[-10.5,-11.9],[-9.2,-11.9],[-5.7,-12.2],[-6.7,-8.9],[-5.6,-8.3],[-5,-9],[-4.1,-8.6],[-4.1,-9.3],[-5.1,-9.6],[-8.3,-18.5],[-1.3,-21.3],[-20.6,2.5],[-27.5,-6.6],[-12,1.3],[-11,0.2],[-2.4,-2.3],[-1.8,0.5],[-6.3,-4.5],[-6,-5.3],[-5.3,-5.1],[-6.3,-5.6],[-4.6,-5.7],[-3,-4.9],[-2.2,-5.3],[-1.8,-4.6],[-1.3,-4.1],[-0.7,-3.6],[0,-2.9],[3.2,-4.3],[4.7,-4.6],[3,1.1],[2.6,0.4],[2.3,-0.75],[3.9,-1.55],[2.9,-2.85],[4.6,1.7],[4.6,1],
[2.3,-7.3],[3.1,-7.2],[4.3,-6.65],[7.5,-8],[8,-7.1],[8.4,-6.65],[1.9,-9.5],[1.8,-10.1],[2.85,-9.65],[3.8,-9.65],
[9.5,7.6],[9.3,7],[13.1,6.7],[11.4,5.2],[11.7,4.8],[16.2,6.7],[17.5,4.2],[17.9,5.8],[16.9,4.6],[18.7,3.6],[19.9,4.3],[18.7,2.2],[16.6,0.9],[-13.3,1.2],[-11.9,15.5],[-9.9,16.2],[-23.8,7],
[30,-29.3],[-2.2,30.6]
];

const coral = [
[-12.3,44.2],[-3,35.3],[-3.2,31.7],[-2.2,31.3],[-17.3,37.3],[6.1,26.8],[-11.5,21.2],[-3,21.4],
[6.2,26.9],[16.5,29.1],[-2.9,21.3],[-3.1,14.6],[-6.1,0.1],[-8.8,-4.8],[-2.5,-5.7],
[-28.2,15.6],[-15.7,13.8],[-27.8,-4.7],[-14.7,-10],[-6.2,0],[-0.8,-17.4],[16.7,-11],[30.4,-22.9]
];

const series = [tan, teal, navy, salmon, grey, mint, red, brown, olive, green, sky, purple, pink, orange, coral];
const colors = ['#B09A82', '#00A28A', '#3D5489', '#F49B7E', '#667873', '#94D3C3', '#DE0000', '#7F6350', '#ABA500', '#7FD866', '#4FBAD8', '#9696FF', '#FF64DC', '#DB8C00', '#FF7A70'];

const margin = { top: 45, left: 163, right: 58, bottom: 125 };
const W = 2933;
const H = 2307;

const App = () => {
  const ref = useRef<SVGSVGElement | null>(null);

  useEffect(() => {
    const svg = d3.select(ref.current);
    svg.selectAll('*').remove();

    const x = d3.scaleLinear().domain([-80, 80]).range([margin.left, W - margin.right]);
    const y = d3.scaleLinear().domain([-80, 80]).range([H - margin.bottom, margin.top]);

    // points
    series.forEach((pts, i) => {
      svg.append('g')
        .selectAll('circle')
        .data(pts)
        .enter()
        .append('circle')
        .attr('cx', d => x(d[0]))
        .attr('cy', d => y(d[1]))
        .attr('r', 5.8)
        .attr('fill', colors[i]);
    });

    // frame and ticks, inward on all four sides
    svg.append('rect')
      .attr('x', x(-80)).attr('y', y(80))
      .attr('width', x(80) - x(-80)).attr('height', y(-80) - y(80))
      .attr('fill', 'none').attr('stroke', '#3a3a3a').attr('stroke-width', 4);

    const fmt = (d: any) => String(d);
    const style = (g: any, labels: boolean) => {
      g.select('.domain').remove();
      g.selectAll('line').attr('stroke', '#3a3a3a').attr('stroke-width', 4);
      g.selectAll('text')
        .attr('font-family', '"Liberation Sans", Arial, sans-serif')
        .attr('font-size', 82)
        .attr('fill', '#262626');
      if (!labels) g.selectAll('text').remove();
    };

    svg.append('g').attr('transform', `translate(0,${y(-80)})`)
      .call(d3.axisBottom(x).tickValues(tickValues).tickSize(-30).tickPadding(50).tickFormat(fmt))
      .call(style, true);
    svg.append('g').attr('transform', `translate(0,${y(80)})`)
      .call(d3.axisTop(x).tickValues(tickValues).tickSize(-30).tickFormat(fmt))
      .call(style, false);
    svg.append('g').attr('transform', `translate(${x(-80)},0)`)
      .call(d3.axisLeft(y).tickValues(tickValues).tickSize(-30).tickPadding(35).tickFormat(fmt))
      .call(style, true);
    svg.append('g').attr('transform', `translate(${x(80)},0)`)
      .call(d3.axisRight(y).tickValues(tickValues).tickSize(-30).tickFormat(fmt))
      .call(style, false);
  }, []);

  return (
    <svg ref={ref} width={W} height={H} style={{ position: 'absolute', left: 0, top: 0, background: '#fff' }} />
  );
};

export default App;
